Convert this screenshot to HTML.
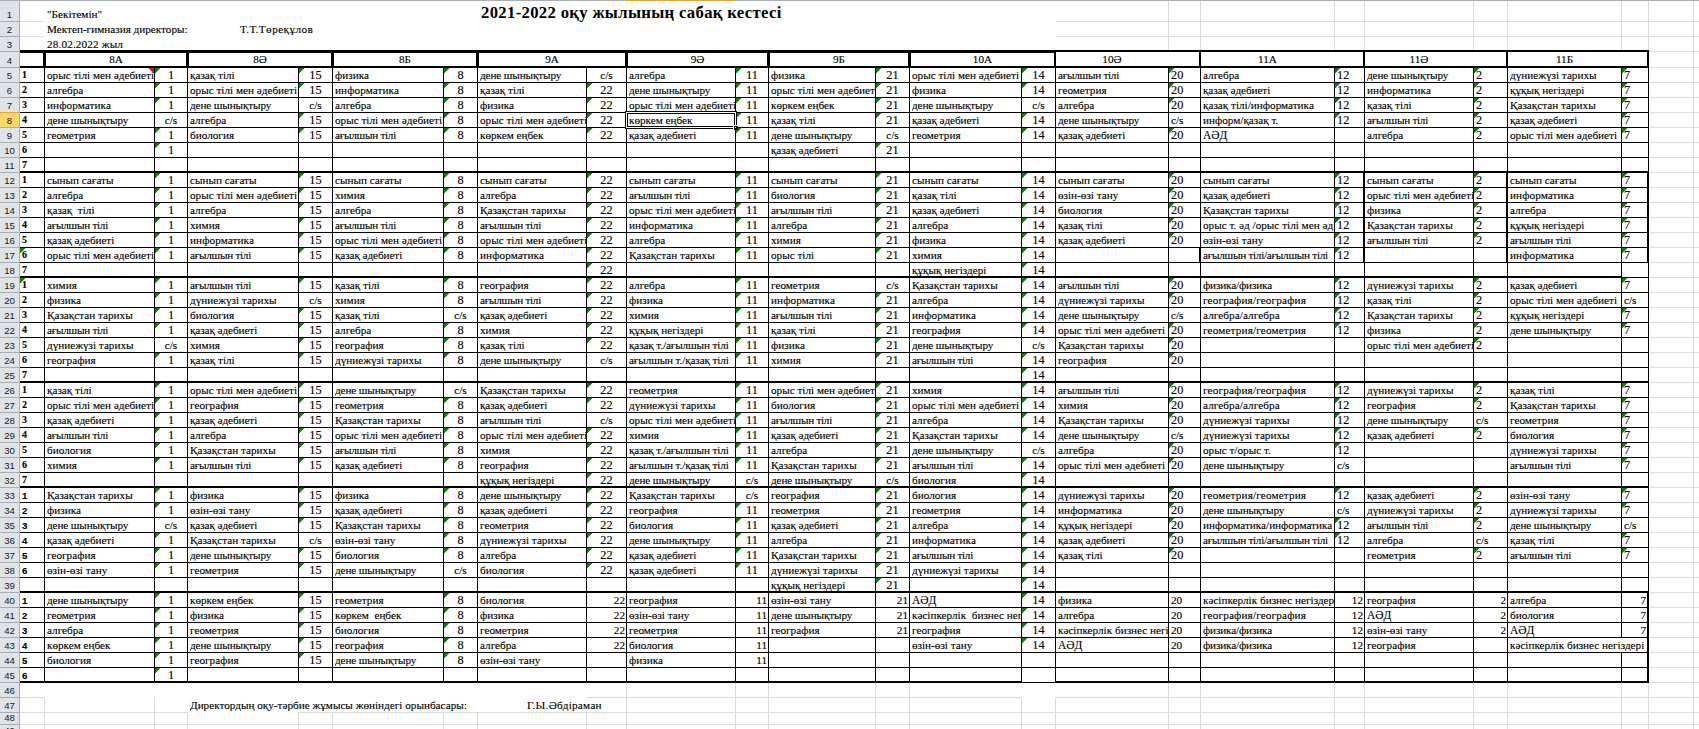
<!DOCTYPE html><html><head><meta charset="utf-8"><title>sheet</title><style>
html,body{margin:0;padding:0;background:#fff;}
body{width:1699px;height:729px;overflow:hidden;position:relative;font-family:"Liberation Serif",serif;font-size:11.2px;color:#000}
#s{position:absolute;left:0;top:0;width:1699px;height:729px;overflow:hidden}
#s div{position:absolute}
.t{white-space:pre;line-height:14px;height:15px;-webkit-text-stroke:0.12px #000}
.g{width:6px;height:6px;background:#0a7d0a;clip-path:polygon(0 0,5.5px 0,0 5.5px)}
.r{width:6px;height:6px;background:#ff0000;clip-path:polygon(0.5px 0,6px 0,6px 5.5px)}
.rh{left:0;width:19px;text-align:center;font-family:"Liberation Sans",sans-serif;font-size:9.6px;color:#1a1a1a}
</style></head><body><div id="s"><div style="left:1649px;top:21px;width:50px;height:1px;background:#dadcdf"></div>
<div style="left:1649px;top:36px;width:50px;height:1px;background:#dadcdf"></div>
<div style="left:1649px;top:51px;width:50px;height:1px;background:#dadcdf"></div>
<div style="left:1649px;top:67px;width:50px;height:1px;background:#dadcdf"></div>
<div style="left:1649px;top:82px;width:50px;height:1px;background:#dadcdf"></div>
<div style="left:1649px;top:97px;width:50px;height:1px;background:#dadcdf"></div>
<div style="left:1649px;top:112px;width:50px;height:1px;background:#dadcdf"></div>
<div style="left:1649px;top:127px;width:50px;height:1px;background:#dadcdf"></div>
<div style="left:1649px;top:142px;width:50px;height:1px;background:#dadcdf"></div>
<div style="left:1649px;top:157px;width:50px;height:1px;background:#dadcdf"></div>
<div style="left:1649px;top:172px;width:50px;height:1px;background:#dadcdf"></div>
<div style="left:1649px;top:187px;width:50px;height:1px;background:#dadcdf"></div>
<div style="left:1649px;top:202px;width:50px;height:1px;background:#dadcdf"></div>
<div style="left:1649px;top:217px;width:50px;height:1px;background:#dadcdf"></div>
<div style="left:1649px;top:232px;width:50px;height:1px;background:#dadcdf"></div>
<div style="left:1649px;top:247px;width:50px;height:1px;background:#dadcdf"></div>
<div style="left:1649px;top:262px;width:50px;height:1px;background:#dadcdf"></div>
<div style="left:1649px;top:277px;width:50px;height:1px;background:#dadcdf"></div>
<div style="left:1649px;top:292px;width:50px;height:1px;background:#dadcdf"></div>
<div style="left:1649px;top:307px;width:50px;height:1px;background:#dadcdf"></div>
<div style="left:1649px;top:322px;width:50px;height:1px;background:#dadcdf"></div>
<div style="left:1649px;top:337px;width:50px;height:1px;background:#dadcdf"></div>
<div style="left:1649px;top:352px;width:50px;height:1px;background:#dadcdf"></div>
<div style="left:1649px;top:367px;width:50px;height:1px;background:#dadcdf"></div>
<div style="left:1649px;top:382px;width:50px;height:1px;background:#dadcdf"></div>
<div style="left:1649px;top:397px;width:50px;height:1px;background:#dadcdf"></div>
<div style="left:1649px;top:412px;width:50px;height:1px;background:#dadcdf"></div>
<div style="left:1649px;top:427px;width:50px;height:1px;background:#dadcdf"></div>
<div style="left:1649px;top:442px;width:50px;height:1px;background:#dadcdf"></div>
<div style="left:1649px;top:457px;width:50px;height:1px;background:#dadcdf"></div>
<div style="left:1649px;top:472px;width:50px;height:1px;background:#dadcdf"></div>
<div style="left:1649px;top:487px;width:50px;height:1px;background:#dadcdf"></div>
<div style="left:1649px;top:502px;width:50px;height:1px;background:#dadcdf"></div>
<div style="left:1649px;top:517px;width:50px;height:1px;background:#dadcdf"></div>
<div style="left:1649px;top:532px;width:50px;height:1px;background:#dadcdf"></div>
<div style="left:1649px;top:547px;width:50px;height:1px;background:#dadcdf"></div>
<div style="left:1649px;top:562px;width:50px;height:1px;background:#dadcdf"></div>
<div style="left:1649px;top:577px;width:50px;height:1px;background:#dadcdf"></div>
<div style="left:1649px;top:592px;width:50px;height:1px;background:#dadcdf"></div>
<div style="left:1649px;top:607px;width:50px;height:1px;background:#dadcdf"></div>
<div style="left:1649px;top:622px;width:50px;height:1px;background:#dadcdf"></div>
<div style="left:1649px;top:637px;width:50px;height:1px;background:#dadcdf"></div>
<div style="left:1649px;top:652px;width:50px;height:1px;background:#dadcdf"></div>
<div style="left:1649px;top:667px;width:50px;height:1px;background:#dadcdf"></div>
<div style="left:1649px;top:682px;width:50px;height:1px;background:#dadcdf"></div>
<div style="left:1649px;top:697px;width:50px;height:1px;background:#dadcdf"></div>
<div style="left:1649px;top:712px;width:50px;height:1px;background:#dadcdf"></div>
<div style="left:1649px;top:724px;width:50px;height:1px;background:#dadcdf"></div>
<div style="left:1693px;top:1px;width:1px;height:728px;background:#dadcdf"></div>
<div style="left:1648px;top:1px;width:1px;height:49px;background:#dadcdf"></div>
<div style="left:1648px;top:683px;width:1px;height:46px;background:#dadcdf"></div>
<div style="left:20px;top:21px;width:24px;height:1px;background:#dadcdf"></div>
<div style="left:20px;top:36px;width:24px;height:1px;background:#dadcdf"></div>
<div style="left:1056px;top:21px;width:593px;height:1px;background:#dadcdf"></div>
<div style="left:1056px;top:36px;width:593px;height:1px;background:#dadcdf"></div>
<div style="left:1168px;top:1px;width:1px;height:49px;background:#dadcdf"></div>
<div style="left:1200px;top:1px;width:1px;height:49px;background:#dadcdf"></div>
<div style="left:1334px;top:1px;width:1px;height:49px;background:#dadcdf"></div>
<div style="left:1364px;top:1px;width:1px;height:49px;background:#dadcdf"></div>
<div style="left:1473px;top:1px;width:1px;height:49px;background:#dadcdf"></div>
<div style="left:1507px;top:1px;width:1px;height:49px;background:#dadcdf"></div>
<div style="left:1621px;top:1px;width:1px;height:49px;background:#dadcdf"></div>
<div style="left:20px;top:697px;width:25px;height:1px;background:#dadcdf"></div>
<div style="left:587px;top:697px;width:435px;height:1px;background:#dadcdf"></div>
<div style="left:1055px;top:697px;width:594px;height:1px;background:#dadcdf"></div>
<div style="left:626px;top:683px;width:1px;height:46px;background:#dadcdf"></div>
<div style="left:735px;top:683px;width:1px;height:46px;background:#dadcdf"></div>
<div style="left:768px;top:683px;width:1px;height:46px;background:#dadcdf"></div>
<div style="left:875px;top:683px;width:1px;height:46px;background:#dadcdf"></div>
<div style="left:909px;top:683px;width:1px;height:46px;background:#dadcdf"></div>
<div style="left:1168px;top:683px;width:1px;height:46px;background:#dadcdf"></div>
<div style="left:1200px;top:683px;width:1px;height:46px;background:#dadcdf"></div>
<div style="left:1334px;top:683px;width:1px;height:46px;background:#dadcdf"></div>
<div style="left:1364px;top:683px;width:1px;height:46px;background:#dadcdf"></div>
<div style="left:1473px;top:683px;width:1px;height:46px;background:#dadcdf"></div>
<div style="left:1507px;top:683px;width:1px;height:46px;background:#dadcdf"></div>
<div style="left:1621px;top:683px;width:1px;height:46px;background:#dadcdf"></div>
<div style="left:1021px;top:697px;width:1px;height:32px;background:#dadcdf"></div>
<div style="left:1055px;top:697px;width:1px;height:32px;background:#dadcdf"></div>
<div style="left:20px;top:712px;width:168px;height:1px;background:#dadcdf"></div>
<div style="left:298px;top:712px;width:1351px;height:1px;background:#dadcdf"></div>
<div style="left:20px;top:724px;width:1629px;height:1px;background:#dadcdf"></div>
<div style="left:44px;top:697px;width:1px;height:32px;background:#dadcdf"></div>
<div style="left:154px;top:697px;width:1px;height:32px;background:#dadcdf"></div>
<div style="left:187px;top:712px;width:1px;height:17px;background:#dadcdf"></div>
<div style="left:298px;top:712px;width:1px;height:17px;background:#dadcdf"></div>
<div style="left:332px;top:712px;width:1px;height:17px;background:#dadcdf"></div>
<div style="left:443px;top:712px;width:1px;height:17px;background:#dadcdf"></div>
<div style="left:477px;top:712px;width:1px;height:17px;background:#dadcdf"></div>
<div style="left:586px;top:712px;width:1px;height:17px;background:#dadcdf"></div>
<div style="left:20px;top:50px;width:1036px;height:3px;background:#000"></div>
<div style="left:1056px;top:50px;width:593px;height:2px;background:#000"></div>
<div style="left:20px;top:66px;width:1629px;height:2px;background:#000"></div>
<div style="left:20px;top:82px;width:1629px;height:1px;background:#000"></div>
<div style="left:20px;top:97px;width:1629px;height:1px;background:#000"></div>
<div style="left:20px;top:112px;width:1629px;height:1px;background:#000"></div>
<div style="left:20px;top:127px;width:1629px;height:1px;background:#000"></div>
<div style="left:20px;top:142px;width:1629px;height:1px;background:#000"></div>
<div style="left:20px;top:157px;width:1629px;height:1px;background:#000"></div>
<div style="left:20px;top:171px;width:1629px;height:2px;background:#000"></div>
<div style="left:20px;top:187px;width:1629px;height:1px;background:#000"></div>
<div style="left:20px;top:202px;width:1629px;height:1px;background:#000"></div>
<div style="left:20px;top:217px;width:1629px;height:1px;background:#000"></div>
<div style="left:20px;top:232px;width:1629px;height:1px;background:#000"></div>
<div style="left:20px;top:247px;width:1629px;height:1px;background:#000"></div>
<div style="left:20px;top:262px;width:1629px;height:1px;background:#000"></div>
<div style="left:20px;top:276px;width:1602px;height:2px;background:#000"></div>
<div style="left:1621px;top:277px;width:28px;height:1px;background:#000"></div>
<div style="left:20px;top:292px;width:1629px;height:1px;background:#000"></div>
<div style="left:20px;top:307px;width:1629px;height:1px;background:#000"></div>
<div style="left:20px;top:322px;width:1629px;height:1px;background:#000"></div>
<div style="left:20px;top:337px;width:1629px;height:1px;background:#000"></div>
<div style="left:20px;top:352px;width:1629px;height:1px;background:#000"></div>
<div style="left:20px;top:367px;width:1629px;height:1px;background:#000"></div>
<div style="left:20px;top:381px;width:1629px;height:2px;background:#000"></div>
<div style="left:20px;top:397px;width:1629px;height:1px;background:#000"></div>
<div style="left:20px;top:412px;width:1629px;height:1px;background:#000"></div>
<div style="left:20px;top:427px;width:1629px;height:1px;background:#000"></div>
<div style="left:20px;top:442px;width:1629px;height:1px;background:#000"></div>
<div style="left:20px;top:457px;width:1629px;height:1px;background:#000"></div>
<div style="left:20px;top:472px;width:1629px;height:1px;background:#000"></div>
<div style="left:20px;top:486px;width:1629px;height:2px;background:#000"></div>
<div style="left:20px;top:502px;width:1629px;height:1px;background:#000"></div>
<div style="left:20px;top:517px;width:1629px;height:1px;background:#000"></div>
<div style="left:20px;top:532px;width:1629px;height:1px;background:#000"></div>
<div style="left:20px;top:547px;width:1629px;height:1px;background:#000"></div>
<div style="left:20px;top:562px;width:1629px;height:1px;background:#000"></div>
<div style="left:20px;top:577px;width:1629px;height:1px;background:#000"></div>
<div style="left:20px;top:591px;width:1629px;height:2px;background:#000"></div>
<div style="left:20px;top:607px;width:1629px;height:1px;background:#000"></div>
<div style="left:20px;top:622px;width:1629px;height:1px;background:#000"></div>
<div style="left:20px;top:637px;width:1629px;height:1px;background:#000"></div>
<div style="left:20px;top:652px;width:1629px;height:1px;background:#000"></div>
<div style="left:20px;top:667px;width:1629px;height:1px;background:#000"></div>
<div style="left:20px;top:681px;width:1002px;height:2px;background:#000"></div>
<div style="left:1021px;top:682px;width:35px;height:1px;background:#000"></div>
<div style="left:1055px;top:681px;width:594px;height:2px;background:#000"></div>
<div style="left:43px;top:50px;width:3px;height:18px;background:#000"></div>
<div style="left:186px;top:50px;width:3px;height:18px;background:#000"></div>
<div style="left:331px;top:50px;width:3px;height:18px;background:#000"></div>
<div style="left:476px;top:50px;width:3px;height:18px;background:#000"></div>
<div style="left:625px;top:50px;width:3px;height:18px;background:#000"></div>
<div style="left:767px;top:50px;width:3px;height:18px;background:#000"></div>
<div style="left:908px;top:50px;width:3px;height:18px;background:#000"></div>
<div style="left:1054px;top:50px;width:2px;height:18px;background:#000"></div>
<div style="left:1199px;top:50px;width:2px;height:18px;background:#000"></div>
<div style="left:1363px;top:50px;width:2px;height:18px;background:#000"></div>
<div style="left:1506px;top:50px;width:2px;height:18px;background:#000"></div>
<div style="left:1647px;top:50px;width:2px;height:18px;background:#000"></div>
<div style="left:44px;top:68px;width:1px;height:615px;background:#000"></div>
<div style="left:154px;top:68px;width:1px;height:615px;background:#000"></div>
<div style="left:187px;top:68px;width:1px;height:615px;background:#000"></div>
<div style="left:298px;top:68px;width:1px;height:615px;background:#000"></div>
<div style="left:332px;top:68px;width:1px;height:615px;background:#000"></div>
<div style="left:443px;top:68px;width:1px;height:615px;background:#000"></div>
<div style="left:477px;top:68px;width:1px;height:615px;background:#000"></div>
<div style="left:586px;top:68px;width:1px;height:615px;background:#000"></div>
<div style="left:626px;top:68px;width:1px;height:615px;background:#000"></div>
<div style="left:735px;top:68px;width:1px;height:615px;background:#000"></div>
<div style="left:768px;top:68px;width:1px;height:615px;background:#000"></div>
<div style="left:875px;top:68px;width:1px;height:615px;background:#000"></div>
<div style="left:909px;top:68px;width:1px;height:615px;background:#000"></div>
<div style="left:1021px;top:68px;width:1px;height:615px;background:#000"></div>
<div style="left:1055px;top:68px;width:1px;height:615px;background:#000"></div>
<div style="left:1168px;top:68px;width:1px;height:615px;background:#000"></div>
<div style="left:1200px;top:68px;width:1px;height:615px;background:#000"></div>
<div style="left:1334px;top:68px;width:1px;height:615px;background:#000"></div>
<div style="left:1364px;top:68px;width:1px;height:615px;background:#000"></div>
<div style="left:1473px;top:68px;width:1px;height:615px;background:#000"></div>
<div style="left:1507px;top:68px;width:1px;height:615px;background:#000"></div>
<div style="left:1621px;top:68px;width:1px;height:570px;background:#000"></div>
<div style="left:1621px;top:652px;width:1px;height:31px;background:#000"></div>
<div style="left:1648px;top:68px;width:1px;height:615px;background:#000"></div>
<div style="left:1647px;top:172px;width:2px;height:91px;background:#000"></div>
<div style="left:1647px;top:592px;width:2px;height:91px;background:#000"></div>
<div style="left:1506px;top:172px;width:2px;height:91px;background:#000"></div>
<div style="left:1363px;top:172px;width:2px;height:91px;background:#000"></div>
<div style="left:1199px;top:247px;width:2px;height:16px;background:#000"></div>
<div class="t" style="left:22px;top:67px;width:20px;font-weight:bold;font-size:10px;line-height:15px">1</div>
<div class="t" style="left:47px;top:68px;width:107px;text-align:left;overflow:hidden;">орыс тілі мен әдебиеті</div>
<div class="t" style="left:155px;top:68px;width:32px;text-align:center;overflow:hidden;font-size:12.3px;">1</div>
<div class="t" style="left:190px;top:68px;width:108px;text-align:left;overflow:hidden;">қазақ тілі</div>
<div class="t" style="left:299px;top:68px;width:33px;text-align:center;overflow:hidden;font-size:12.3px;">15</div>
<div class="t" style="left:335px;top:68px;width:108px;text-align:left;overflow:hidden;">физика</div>
<div class="t" style="left:444px;top:68px;width:33px;text-align:center;overflow:hidden;font-size:12.3px;">8</div>
<div class="t" style="left:480px;top:68px;width:106px;text-align:left;overflow:hidden;letter-spacing:-0.12px;">дене шынықтыру</div>
<div class="t" style="left:587px;top:68px;width:39px;text-align:center;overflow:hidden;">c/s</div>
<div class="t" style="left:629px;top:68px;width:106px;text-align:left;overflow:hidden;">алгебра</div>
<div class="t" style="left:736px;top:68px;width:32px;text-align:center;overflow:hidden;font-size:12.3px;">11</div>
<div class="t" style="left:771px;top:68px;width:104px;text-align:left;overflow:hidden;">физика</div>
<div class="t" style="left:876px;top:68px;width:33px;text-align:center;overflow:hidden;font-size:12.3px;">21</div>
<div class="t" style="left:912px;top:68px;width:109px;text-align:left;overflow:hidden;">орыс тілі мен әдебиеті</div>
<div class="t" style="left:1022px;top:68px;width:33px;text-align:center;overflow:hidden;font-size:12.3px;">14</div>
<div class="t" style="left:1058px;top:68px;width:110px;text-align:left;overflow:hidden;letter-spacing:-0.27px;">ағылшын тілі</div>
<div class="t" style="left:1171px;top:68px;width:29px;text-align:left;overflow:hidden;font-size:12.3px;">20</div>
<div class="t" style="left:1203px;top:68px;width:131px;text-align:left;overflow:hidden;">алгебра</div>
<div class="t" style="left:1337px;top:68px;width:27px;text-align:left;overflow:hidden;font-size:12.3px;">12</div>
<div class="t" style="left:1367px;top:68px;width:106px;text-align:left;overflow:hidden;letter-spacing:-0.12px;">дене шынықтыру</div>
<div class="t" style="left:1476px;top:68px;width:31px;text-align:left;overflow:hidden;font-size:12.3px;">2</div>
<div class="t" style="left:1510px;top:68px;width:111px;text-align:left;overflow:hidden;">дүниежүзі тарихы</div>
<div class="t" style="left:1624px;top:68px;width:24px;text-align:left;overflow:hidden;font-size:12.3px;">7</div>
<div class="t" style="left:22px;top:82px;width:20px;font-weight:bold;font-size:10px;line-height:15px">2</div>
<div class="t" style="left:47px;top:83px;width:107px;text-align:left;overflow:hidden;">алгебра</div>
<div class="t" style="left:155px;top:83px;width:32px;text-align:center;overflow:hidden;font-size:12.3px;">1</div>
<div class="t" style="left:190px;top:83px;width:108px;text-align:left;overflow:hidden;">орыс тілі мен әдебиеті</div>
<div class="t" style="left:299px;top:83px;width:33px;text-align:center;overflow:hidden;font-size:12.3px;">15</div>
<div class="t" style="left:335px;top:83px;width:108px;text-align:left;overflow:hidden;letter-spacing:0.09px;">информатика</div>
<div class="t" style="left:444px;top:83px;width:33px;text-align:center;overflow:hidden;font-size:12.3px;">8</div>
<div class="t" style="left:480px;top:83px;width:106px;text-align:left;overflow:hidden;">қазақ тілі</div>
<div class="t" style="left:587px;top:83px;width:39px;text-align:center;overflow:hidden;font-size:12.3px;">22</div>
<div class="t" style="left:629px;top:83px;width:106px;text-align:left;overflow:hidden;letter-spacing:-0.12px;">дене шынықтыру</div>
<div class="t" style="left:736px;top:83px;width:32px;text-align:center;overflow:hidden;font-size:12.3px;">11</div>
<div class="t" style="left:771px;top:83px;width:104px;text-align:left;overflow:hidden;">орыс тілі мен әдебиеті</div>
<div class="t" style="left:876px;top:83px;width:33px;text-align:center;overflow:hidden;font-size:12.3px;">21</div>
<div class="t" style="left:912px;top:83px;width:109px;text-align:left;overflow:hidden;">физика</div>
<div class="t" style="left:1022px;top:83px;width:33px;text-align:center;overflow:hidden;font-size:12.3px;">14</div>
<div class="t" style="left:1058px;top:83px;width:110px;text-align:left;overflow:hidden;">геометрия</div>
<div class="t" style="left:1171px;top:83px;width:29px;text-align:left;overflow:hidden;font-size:12.3px;">20</div>
<div class="t" style="left:1203px;top:83px;width:131px;text-align:left;overflow:hidden;letter-spacing:-0.08px;">қазақ әдебиеті</div>
<div class="t" style="left:1337px;top:83px;width:27px;text-align:left;overflow:hidden;font-size:12.3px;">12</div>
<div class="t" style="left:1367px;top:83px;width:106px;text-align:left;overflow:hidden;letter-spacing:0.09px;">информатика</div>
<div class="t" style="left:1476px;top:83px;width:31px;text-align:left;overflow:hidden;font-size:12.3px;">2</div>
<div class="t" style="left:1510px;top:83px;width:111px;text-align:left;overflow:hidden;">құқық негіздері</div>
<div class="t" style="left:1624px;top:83px;width:24px;text-align:left;overflow:hidden;font-size:12.3px;">7</div>
<div class="t" style="left:22px;top:97px;width:20px;font-weight:bold;font-size:10px;line-height:15px">3</div>
<div class="t" style="left:47px;top:98px;width:107px;text-align:left;overflow:hidden;letter-spacing:0.09px;">информатика</div>
<div class="t" style="left:155px;top:98px;width:32px;text-align:center;overflow:hidden;font-size:12.3px;">1</div>
<div class="t" style="left:190px;top:98px;width:108px;text-align:left;overflow:hidden;letter-spacing:-0.12px;">дене шынықтыру</div>
<div class="t" style="left:299px;top:98px;width:33px;text-align:center;overflow:hidden;">c/s</div>
<div class="t" style="left:335px;top:98px;width:108px;text-align:left;overflow:hidden;">алгебра</div>
<div class="t" style="left:444px;top:98px;width:33px;text-align:center;overflow:hidden;font-size:12.3px;">8</div>
<div class="t" style="left:480px;top:98px;width:106px;text-align:left;overflow:hidden;">физика</div>
<div class="t" style="left:587px;top:98px;width:39px;text-align:center;overflow:hidden;font-size:12.3px;">22</div>
<div class="t" style="left:629px;top:98px;width:106px;text-align:left;overflow:hidden;">орыс тілі мен әдебиеті</div>
<div class="t" style="left:736px;top:98px;width:32px;text-align:center;overflow:hidden;font-size:12.3px;">11</div>
<div class="t" style="left:771px;top:98px;width:104px;text-align:left;overflow:hidden;">көркем еңбек</div>
<div class="t" style="left:876px;top:98px;width:33px;text-align:center;overflow:hidden;font-size:12.3px;">21</div>
<div class="t" style="left:912px;top:98px;width:109px;text-align:left;overflow:hidden;letter-spacing:-0.12px;">дене шынықтыру</div>
<div class="t" style="left:1022px;top:98px;width:33px;text-align:center;overflow:hidden;">c/s</div>
<div class="t" style="left:1058px;top:98px;width:110px;text-align:left;overflow:hidden;">алгебра</div>
<div class="t" style="left:1171px;top:98px;width:29px;text-align:left;overflow:hidden;font-size:12.3px;">20</div>
<div class="t" style="left:1203px;top:98px;width:131px;text-align:left;overflow:hidden;">қазақ тілі/информатика</div>
<div class="t" style="left:1337px;top:98px;width:27px;text-align:left;overflow:hidden;font-size:12.3px;">12</div>
<div class="t" style="left:1367px;top:98px;width:106px;text-align:left;overflow:hidden;">қазақ тілі</div>
<div class="t" style="left:1476px;top:98px;width:31px;text-align:left;overflow:hidden;font-size:12.3px;">2</div>
<div class="t" style="left:1510px;top:98px;width:111px;text-align:left;overflow:hidden;">Қазақстан тарихы</div>
<div class="t" style="left:1624px;top:98px;width:24px;text-align:left;overflow:hidden;font-size:12.3px;">7</div>
<div class="t" style="left:22px;top:112px;width:20px;font-weight:bold;font-size:10px;line-height:15px">4</div>
<div class="t" style="left:47px;top:113px;width:107px;text-align:left;overflow:hidden;letter-spacing:-0.12px;">дене шынықтыру</div>
<div class="t" style="left:155px;top:113px;width:32px;text-align:center;overflow:hidden;">c/s</div>
<div class="t" style="left:190px;top:113px;width:108px;text-align:left;overflow:hidden;">алгебра</div>
<div class="t" style="left:299px;top:113px;width:33px;text-align:center;overflow:hidden;font-size:12.3px;">15</div>
<div class="t" style="left:335px;top:113px;width:108px;text-align:left;overflow:hidden;">орыс тілі мен әдебиеті</div>
<div class="t" style="left:444px;top:113px;width:33px;text-align:center;overflow:hidden;font-size:12.3px;">8</div>
<div class="t" style="left:480px;top:113px;width:106px;text-align:left;overflow:hidden;">орыс тілі мен әдебиеті</div>
<div class="t" style="left:587px;top:113px;width:39px;text-align:center;overflow:hidden;font-size:12.3px;">22</div>
<div class="t" style="left:629px;top:113px;width:106px;text-align:left;overflow:hidden;">көркем еңбек</div>
<div class="t" style="left:736px;top:113px;width:32px;text-align:center;overflow:hidden;font-size:12.3px;">11</div>
<div class="t" style="left:771px;top:113px;width:104px;text-align:left;overflow:hidden;">қазақ тілі</div>
<div class="t" style="left:876px;top:113px;width:33px;text-align:center;overflow:hidden;font-size:12.3px;">21</div>
<div class="t" style="left:912px;top:113px;width:109px;text-align:left;overflow:hidden;letter-spacing:-0.08px;">қазақ әдебиеті</div>
<div class="t" style="left:1022px;top:113px;width:33px;text-align:center;overflow:hidden;font-size:12.3px;">14</div>
<div class="t" style="left:1058px;top:113px;width:110px;text-align:left;overflow:hidden;letter-spacing:-0.12px;">дене шынықтыру</div>
<div class="t" style="left:1171px;top:113px;width:29px;text-align:left;overflow:hidden;">c/s</div>
<div class="t" style="left:1203px;top:113px;width:131px;text-align:left;overflow:hidden;">информ/қазақ т.</div>
<div class="t" style="left:1337px;top:113px;width:27px;text-align:left;overflow:hidden;font-size:12.3px;">12</div>
<div class="t" style="left:1367px;top:113px;width:106px;text-align:left;overflow:hidden;letter-spacing:-0.27px;">ағылшын тілі</div>
<div class="t" style="left:1476px;top:113px;width:31px;text-align:left;overflow:hidden;font-size:12.3px;">2</div>
<div class="t" style="left:1510px;top:113px;width:111px;text-align:left;overflow:hidden;letter-spacing:-0.08px;">қазақ әдебиеті</div>
<div class="t" style="left:1624px;top:113px;width:24px;text-align:left;overflow:hidden;font-size:12.3px;">7</div>
<div class="t" style="left:22px;top:127px;width:20px;font-weight:bold;font-size:10px;line-height:15px">5</div>
<div class="t" style="left:47px;top:128px;width:107px;text-align:left;overflow:hidden;">геометрия</div>
<div class="t" style="left:155px;top:128px;width:32px;text-align:center;overflow:hidden;font-size:12.3px;">1</div>
<div class="t" style="left:190px;top:128px;width:108px;text-align:left;overflow:hidden;">биология</div>
<div class="t" style="left:299px;top:128px;width:33px;text-align:center;overflow:hidden;font-size:12.3px;">15</div>
<div class="t" style="left:335px;top:128px;width:108px;text-align:left;overflow:hidden;letter-spacing:-0.27px;">ағылшын тілі</div>
<div class="t" style="left:444px;top:128px;width:33px;text-align:center;overflow:hidden;font-size:12.3px;">8</div>
<div class="t" style="left:480px;top:128px;width:106px;text-align:left;overflow:hidden;">көркем еңбек</div>
<div class="t" style="left:587px;top:128px;width:39px;text-align:center;overflow:hidden;font-size:12.3px;">22</div>
<div class="t" style="left:629px;top:128px;width:106px;text-align:left;overflow:hidden;letter-spacing:-0.08px;">қазақ әдебиеті</div>
<div class="t" style="left:736px;top:128px;width:32px;text-align:center;overflow:hidden;font-size:12.3px;">11</div>
<div class="t" style="left:771px;top:128px;width:104px;text-align:left;overflow:hidden;letter-spacing:-0.12px;">дене шынықтыру</div>
<div class="t" style="left:876px;top:128px;width:33px;text-align:center;overflow:hidden;">c/s</div>
<div class="t" style="left:912px;top:128px;width:109px;text-align:left;overflow:hidden;">геометрия</div>
<div class="t" style="left:1022px;top:128px;width:33px;text-align:center;overflow:hidden;font-size:12.3px;">14</div>
<div class="t" style="left:1058px;top:128px;width:110px;text-align:left;overflow:hidden;letter-spacing:-0.08px;">қазақ әдебиеті</div>
<div class="t" style="left:1171px;top:128px;width:29px;text-align:left;overflow:hidden;font-size:12.3px;">20</div>
<div class="t" style="left:1203px;top:128px;width:131px;text-align:left;overflow:hidden;font-size:11.45px;">АӘД</div>
<div class="t" style="left:1367px;top:128px;width:106px;text-align:left;overflow:hidden;">алгебра</div>
<div class="t" style="left:1476px;top:128px;width:31px;text-align:left;overflow:hidden;font-size:12.3px;">2</div>
<div class="t" style="left:1510px;top:128px;width:111px;text-align:left;overflow:hidden;">орыс тілі мен әдебиеті</div>
<div class="t" style="left:1624px;top:128px;width:24px;text-align:left;overflow:hidden;font-size:12.3px;">7</div>
<div class="t" style="left:22px;top:142px;width:20px;font-weight:bold;font-size:10px;line-height:15px">6</div>
<div class="t" style="left:155px;top:143px;width:32px;text-align:center;overflow:hidden;font-size:12.3px;">1</div>
<div class="t" style="left:771px;top:143px;width:104px;text-align:left;overflow:hidden;letter-spacing:-0.08px;">қазақ әдебиеті</div>
<div class="t" style="left:876px;top:143px;width:33px;text-align:center;overflow:hidden;font-size:12.3px;">21</div>
<div class="t" style="left:22px;top:157px;width:20px;font-weight:bold;font-size:10px;line-height:15px">7</div>
<div class="t" style="left:22px;top:172px;width:20px;font-weight:bold;font-size:10px;line-height:15px">1</div>
<div class="t" style="left:47px;top:173px;width:107px;text-align:left;overflow:hidden;">сынып сағаты</div>
<div class="t" style="left:155px;top:173px;width:32px;text-align:center;overflow:hidden;font-size:12.3px;">1</div>
<div class="t" style="left:190px;top:173px;width:108px;text-align:left;overflow:hidden;">сынып сағаты</div>
<div class="t" style="left:299px;top:173px;width:33px;text-align:center;overflow:hidden;font-size:12.3px;">15</div>
<div class="t" style="left:335px;top:173px;width:108px;text-align:left;overflow:hidden;">сынып сағаты</div>
<div class="t" style="left:444px;top:173px;width:33px;text-align:center;overflow:hidden;font-size:12.3px;">8</div>
<div class="t" style="left:480px;top:173px;width:106px;text-align:left;overflow:hidden;">сынып сағаты</div>
<div class="t" style="left:587px;top:173px;width:39px;text-align:center;overflow:hidden;font-size:12.3px;">22</div>
<div class="t" style="left:629px;top:173px;width:106px;text-align:left;overflow:hidden;">сынып сағаты</div>
<div class="t" style="left:736px;top:173px;width:32px;text-align:center;overflow:hidden;font-size:12.3px;">11</div>
<div class="t" style="left:771px;top:173px;width:104px;text-align:left;overflow:hidden;">сынып сағаты</div>
<div class="t" style="left:876px;top:173px;width:33px;text-align:center;overflow:hidden;font-size:12.3px;">21</div>
<div class="t" style="left:912px;top:173px;width:109px;text-align:left;overflow:hidden;">сынып сағаты</div>
<div class="t" style="left:1022px;top:173px;width:33px;text-align:center;overflow:hidden;font-size:12.3px;">14</div>
<div class="t" style="left:1058px;top:173px;width:110px;text-align:left;overflow:hidden;">сынып сағаты</div>
<div class="t" style="left:1171px;top:173px;width:29px;text-align:left;overflow:hidden;font-size:12.3px;">20</div>
<div class="t" style="left:1203px;top:173px;width:131px;text-align:left;overflow:hidden;">сынып сағаты</div>
<div class="t" style="left:1337px;top:173px;width:27px;text-align:left;overflow:hidden;font-size:12.3px;">12</div>
<div class="t" style="left:1367px;top:173px;width:106px;text-align:left;overflow:hidden;">сынып сағаты</div>
<div class="t" style="left:1476px;top:173px;width:31px;text-align:left;overflow:hidden;font-size:12.3px;">2</div>
<div class="t" style="left:1510px;top:173px;width:111px;text-align:left;overflow:hidden;">сынып сағаты</div>
<div class="t" style="left:1624px;top:173px;width:24px;text-align:left;overflow:hidden;font-size:12.3px;">7</div>
<div class="t" style="left:22px;top:187px;width:20px;font-weight:bold;font-size:10px;line-height:15px">2</div>
<div class="t" style="left:47px;top:188px;width:107px;text-align:left;overflow:hidden;">алгебра</div>
<div class="t" style="left:155px;top:188px;width:32px;text-align:center;overflow:hidden;font-size:12.3px;">1</div>
<div class="t" style="left:190px;top:188px;width:108px;text-align:left;overflow:hidden;">орыс тілі мен әдебиеті</div>
<div class="t" style="left:299px;top:188px;width:33px;text-align:center;overflow:hidden;font-size:12.3px;">15</div>
<div class="t" style="left:335px;top:188px;width:108px;text-align:left;overflow:hidden;">химия</div>
<div class="t" style="left:444px;top:188px;width:33px;text-align:center;overflow:hidden;font-size:12.3px;">8</div>
<div class="t" style="left:480px;top:188px;width:106px;text-align:left;overflow:hidden;">алгебра</div>
<div class="t" style="left:587px;top:188px;width:39px;text-align:center;overflow:hidden;font-size:12.3px;">22</div>
<div class="t" style="left:629px;top:188px;width:106px;text-align:left;overflow:hidden;letter-spacing:-0.27px;">ағылшын тілі</div>
<div class="t" style="left:736px;top:188px;width:32px;text-align:center;overflow:hidden;font-size:12.3px;">11</div>
<div class="t" style="left:771px;top:188px;width:104px;text-align:left;overflow:hidden;">биология</div>
<div class="t" style="left:876px;top:188px;width:33px;text-align:center;overflow:hidden;font-size:12.3px;">21</div>
<div class="t" style="left:912px;top:188px;width:109px;text-align:left;overflow:hidden;">қазақ тілі</div>
<div class="t" style="left:1022px;top:188px;width:33px;text-align:center;overflow:hidden;font-size:12.3px;">14</div>
<div class="t" style="left:1058px;top:188px;width:110px;text-align:left;overflow:hidden;">өзін-өзі тану</div>
<div class="t" style="left:1171px;top:188px;width:29px;text-align:left;overflow:hidden;font-size:12.3px;">20</div>
<div class="t" style="left:1203px;top:188px;width:131px;text-align:left;overflow:hidden;letter-spacing:-0.08px;">қазақ әдебиеті</div>
<div class="t" style="left:1337px;top:188px;width:27px;text-align:left;overflow:hidden;font-size:12.3px;">12</div>
<div class="t" style="left:1367px;top:188px;width:106px;text-align:left;overflow:hidden;">орыс тілі мен әдебиеті</div>
<div class="t" style="left:1476px;top:188px;width:31px;text-align:left;overflow:hidden;font-size:12.3px;">2</div>
<div class="t" style="left:1510px;top:188px;width:111px;text-align:left;overflow:hidden;letter-spacing:0.09px;">информатика</div>
<div class="t" style="left:1624px;top:188px;width:24px;text-align:left;overflow:hidden;font-size:12.3px;">7</div>
<div class="t" style="left:22px;top:202px;width:20px;font-weight:bold;font-size:10px;line-height:15px">3</div>
<div class="t" style="left:47px;top:203px;width:107px;text-align:left;overflow:hidden;">қазақ  тілі</div>
<div class="t" style="left:155px;top:203px;width:32px;text-align:center;overflow:hidden;font-size:12.3px;">1</div>
<div class="t" style="left:190px;top:203px;width:108px;text-align:left;overflow:hidden;">алгебра</div>
<div class="t" style="left:299px;top:203px;width:33px;text-align:center;overflow:hidden;font-size:12.3px;">15</div>
<div class="t" style="left:335px;top:203px;width:108px;text-align:left;overflow:hidden;">алгебра</div>
<div class="t" style="left:444px;top:203px;width:33px;text-align:center;overflow:hidden;font-size:12.3px;">8</div>
<div class="t" style="left:480px;top:203px;width:106px;text-align:left;overflow:hidden;">Қазақстан тарихы</div>
<div class="t" style="left:587px;top:203px;width:39px;text-align:center;overflow:hidden;font-size:12.3px;">22</div>
<div class="t" style="left:629px;top:203px;width:106px;text-align:left;overflow:hidden;">орыс тілі мен әдебиеті</div>
<div class="t" style="left:736px;top:203px;width:32px;text-align:center;overflow:hidden;font-size:12.3px;">11</div>
<div class="t" style="left:771px;top:203px;width:104px;text-align:left;overflow:hidden;letter-spacing:-0.27px;">ағылшын тілі</div>
<div class="t" style="left:876px;top:203px;width:33px;text-align:center;overflow:hidden;font-size:12.3px;">21</div>
<div class="t" style="left:912px;top:203px;width:109px;text-align:left;overflow:hidden;letter-spacing:-0.08px;">қазақ әдебиеті</div>
<div class="t" style="left:1022px;top:203px;width:33px;text-align:center;overflow:hidden;font-size:12.3px;">14</div>
<div class="t" style="left:1058px;top:203px;width:110px;text-align:left;overflow:hidden;">биология</div>
<div class="t" style="left:1171px;top:203px;width:29px;text-align:left;overflow:hidden;font-size:12.3px;">20</div>
<div class="t" style="left:1203px;top:203px;width:131px;text-align:left;overflow:hidden;">Қазақстан тарихы</div>
<div class="t" style="left:1337px;top:203px;width:27px;text-align:left;overflow:hidden;font-size:12.3px;">12</div>
<div class="t" style="left:1367px;top:203px;width:106px;text-align:left;overflow:hidden;">физика</div>
<div class="t" style="left:1476px;top:203px;width:31px;text-align:left;overflow:hidden;font-size:12.3px;">2</div>
<div class="t" style="left:1510px;top:203px;width:111px;text-align:left;overflow:hidden;">алгебра</div>
<div class="t" style="left:1624px;top:203px;width:24px;text-align:left;overflow:hidden;font-size:12.3px;">7</div>
<div class="t" style="left:22px;top:217px;width:20px;font-weight:bold;font-size:10px;line-height:15px">4</div>
<div class="t" style="left:47px;top:218px;width:107px;text-align:left;overflow:hidden;letter-spacing:-0.27px;">ағылшын тілі</div>
<div class="t" style="left:155px;top:218px;width:32px;text-align:center;overflow:hidden;font-size:12.3px;">1</div>
<div class="t" style="left:190px;top:218px;width:108px;text-align:left;overflow:hidden;">химия</div>
<div class="t" style="left:299px;top:218px;width:33px;text-align:center;overflow:hidden;font-size:12.3px;">15</div>
<div class="t" style="left:335px;top:218px;width:108px;text-align:left;overflow:hidden;letter-spacing:-0.27px;">ағылшын тілі</div>
<div class="t" style="left:444px;top:218px;width:33px;text-align:center;overflow:hidden;font-size:12.3px;">8</div>
<div class="t" style="left:480px;top:218px;width:106px;text-align:left;overflow:hidden;letter-spacing:-0.27px;">ағылшын тілі</div>
<div class="t" style="left:587px;top:218px;width:39px;text-align:center;overflow:hidden;font-size:12.3px;">22</div>
<div class="t" style="left:629px;top:218px;width:106px;text-align:left;overflow:hidden;letter-spacing:0.09px;">информатика</div>
<div class="t" style="left:736px;top:218px;width:32px;text-align:center;overflow:hidden;font-size:12.3px;">11</div>
<div class="t" style="left:771px;top:218px;width:104px;text-align:left;overflow:hidden;">алгебра</div>
<div class="t" style="left:876px;top:218px;width:33px;text-align:center;overflow:hidden;font-size:12.3px;">21</div>
<div class="t" style="left:912px;top:218px;width:109px;text-align:left;overflow:hidden;">алгебра</div>
<div class="t" style="left:1022px;top:218px;width:33px;text-align:center;overflow:hidden;font-size:12.3px;">14</div>
<div class="t" style="left:1058px;top:218px;width:110px;text-align:left;overflow:hidden;">қазақ тілі</div>
<div class="t" style="left:1171px;top:218px;width:29px;text-align:left;overflow:hidden;font-size:12.3px;">20</div>
<div class="t" style="left:1203px;top:218px;width:131px;text-align:left;overflow:hidden;">орыс т. әд /орыс тілі мен әд</div>
<div class="t" style="left:1337px;top:218px;width:27px;text-align:left;overflow:hidden;font-size:12.3px;">12</div>
<div class="t" style="left:1367px;top:218px;width:106px;text-align:left;overflow:hidden;">Қазақстан тарихы</div>
<div class="t" style="left:1476px;top:218px;width:31px;text-align:left;overflow:hidden;font-size:12.3px;">2</div>
<div class="t" style="left:1510px;top:218px;width:111px;text-align:left;overflow:hidden;">құқық негіздері</div>
<div class="t" style="left:1624px;top:218px;width:24px;text-align:left;overflow:hidden;font-size:12.3px;">7</div>
<div class="t" style="left:22px;top:232px;width:20px;font-weight:bold;font-size:10px;line-height:15px">5</div>
<div class="t" style="left:47px;top:233px;width:107px;text-align:left;overflow:hidden;letter-spacing:-0.08px;">қазақ әдебиеті</div>
<div class="t" style="left:155px;top:233px;width:32px;text-align:center;overflow:hidden;font-size:12.3px;">1</div>
<div class="t" style="left:190px;top:233px;width:108px;text-align:left;overflow:hidden;letter-spacing:0.09px;">информатика</div>
<div class="t" style="left:299px;top:233px;width:33px;text-align:center;overflow:hidden;font-size:12.3px;">15</div>
<div class="t" style="left:335px;top:233px;width:108px;text-align:left;overflow:hidden;">орыс тілі мен әдебиеті</div>
<div class="t" style="left:444px;top:233px;width:33px;text-align:center;overflow:hidden;font-size:12.3px;">8</div>
<div class="t" style="left:480px;top:233px;width:106px;text-align:left;overflow:hidden;">орыс тілі мен әдебиеті</div>
<div class="t" style="left:587px;top:233px;width:39px;text-align:center;overflow:hidden;font-size:12.3px;">22</div>
<div class="t" style="left:629px;top:233px;width:106px;text-align:left;overflow:hidden;">алгебра</div>
<div class="t" style="left:736px;top:233px;width:32px;text-align:center;overflow:hidden;font-size:12.3px;">11</div>
<div class="t" style="left:771px;top:233px;width:104px;text-align:left;overflow:hidden;">химия</div>
<div class="t" style="left:876px;top:233px;width:33px;text-align:center;overflow:hidden;font-size:12.3px;">21</div>
<div class="t" style="left:912px;top:233px;width:109px;text-align:left;overflow:hidden;">физика</div>
<div class="t" style="left:1022px;top:233px;width:33px;text-align:center;overflow:hidden;font-size:12.3px;">14</div>
<div class="t" style="left:1058px;top:233px;width:110px;text-align:left;overflow:hidden;letter-spacing:-0.08px;">қазақ әдебиеті</div>
<div class="t" style="left:1171px;top:233px;width:29px;text-align:left;overflow:hidden;font-size:12.3px;">20</div>
<div class="t" style="left:1203px;top:233px;width:131px;text-align:left;overflow:hidden;">өзін-өзі тану</div>
<div class="t" style="left:1337px;top:233px;width:27px;text-align:left;overflow:hidden;font-size:12.3px;">12</div>
<div class="t" style="left:1367px;top:233px;width:106px;text-align:left;overflow:hidden;letter-spacing:-0.27px;">ағылшын тілі</div>
<div class="t" style="left:1476px;top:233px;width:31px;text-align:left;overflow:hidden;font-size:12.3px;">2</div>
<div class="t" style="left:1510px;top:233px;width:111px;text-align:left;overflow:hidden;letter-spacing:-0.27px;">ағылшын тілі</div>
<div class="t" style="left:1624px;top:233px;width:24px;text-align:left;overflow:hidden;font-size:12.3px;">7</div>
<div class="t" style="left:22px;top:247px;width:20px;font-weight:bold;font-size:10px;line-height:15px">6</div>
<div class="t" style="left:47px;top:248px;width:107px;text-align:left;overflow:hidden;">орыс тілі мен әдебиеті</div>
<div class="t" style="left:155px;top:248px;width:32px;text-align:center;overflow:hidden;font-size:12.3px;">1</div>
<div class="t" style="left:190px;top:248px;width:108px;text-align:left;overflow:hidden;letter-spacing:-0.27px;">ағылшын тілі</div>
<div class="t" style="left:299px;top:248px;width:33px;text-align:center;overflow:hidden;font-size:12.3px;">15</div>
<div class="t" style="left:335px;top:248px;width:108px;text-align:left;overflow:hidden;letter-spacing:-0.08px;">қазақ әдебиеті</div>
<div class="t" style="left:444px;top:248px;width:33px;text-align:center;overflow:hidden;font-size:12.3px;">8</div>
<div class="t" style="left:480px;top:248px;width:106px;text-align:left;overflow:hidden;letter-spacing:0.09px;">информатика</div>
<div class="t" style="left:587px;top:248px;width:39px;text-align:center;overflow:hidden;font-size:12.3px;">22</div>
<div class="t" style="left:629px;top:248px;width:106px;text-align:left;overflow:hidden;">Қазақстан тарихы</div>
<div class="t" style="left:736px;top:248px;width:32px;text-align:center;overflow:hidden;font-size:12.3px;">11</div>
<div class="t" style="left:771px;top:248px;width:104px;text-align:left;overflow:hidden;">орыс тілі</div>
<div class="t" style="left:876px;top:248px;width:33px;text-align:center;overflow:hidden;font-size:12.3px;">21</div>
<div class="t" style="left:912px;top:248px;width:109px;text-align:left;overflow:hidden;">химия</div>
<div class="t" style="left:1022px;top:248px;width:33px;text-align:center;overflow:hidden;font-size:12.3px;">14</div>
<div class="t" style="left:1203px;top:248px;width:131px;text-align:left;overflow:hidden;letter-spacing:-0.27px;">ағылшын тілі/ағылшын тілі</div>
<div class="t" style="left:1337px;top:248px;width:27px;text-align:left;overflow:hidden;font-size:12.3px;">12</div>
<div class="t" style="left:1510px;top:248px;width:111px;text-align:left;overflow:hidden;letter-spacing:0.09px;">информатика</div>
<div class="t" style="left:1624px;top:248px;width:24px;text-align:left;overflow:hidden;font-size:12.3px;">7</div>
<div class="t" style="left:22px;top:262px;width:20px;font-weight:bold;font-size:10px;line-height:15px">7</div>
<div class="t" style="left:587px;top:263px;width:39px;text-align:center;overflow:hidden;font-size:12.3px;">22</div>
<div class="t" style="left:912px;top:263px;width:109px;text-align:left;overflow:hidden;">құқық негіздері</div>
<div class="t" style="left:1022px;top:263px;width:33px;text-align:center;overflow:hidden;font-size:12.3px;">14</div>
<div class="t" style="left:22px;top:277px;width:20px;font-weight:bold;font-size:10px;line-height:15px">1</div>
<div class="t" style="left:47px;top:278px;width:107px;text-align:left;overflow:hidden;">химия</div>
<div class="t" style="left:155px;top:278px;width:32px;text-align:center;overflow:hidden;font-size:12.3px;">1</div>
<div class="t" style="left:190px;top:278px;width:108px;text-align:left;overflow:hidden;letter-spacing:-0.27px;">ағылшын тілі</div>
<div class="t" style="left:299px;top:278px;width:33px;text-align:center;overflow:hidden;font-size:12.3px;">15</div>
<div class="t" style="left:335px;top:278px;width:108px;text-align:left;overflow:hidden;">қазақ тілі</div>
<div class="t" style="left:444px;top:278px;width:33px;text-align:center;overflow:hidden;font-size:12.3px;">8</div>
<div class="t" style="left:480px;top:278px;width:106px;text-align:left;overflow:hidden;">география</div>
<div class="t" style="left:587px;top:278px;width:39px;text-align:center;overflow:hidden;font-size:12.3px;">22</div>
<div class="t" style="left:629px;top:278px;width:106px;text-align:left;overflow:hidden;">алгебра</div>
<div class="t" style="left:736px;top:278px;width:32px;text-align:center;overflow:hidden;font-size:12.3px;">11</div>
<div class="t" style="left:771px;top:278px;width:104px;text-align:left;overflow:hidden;">геометрия</div>
<div class="t" style="left:876px;top:278px;width:33px;text-align:center;overflow:hidden;">c/s</div>
<div class="t" style="left:912px;top:278px;width:109px;text-align:left;overflow:hidden;">Қазақстан тарихы</div>
<div class="t" style="left:1022px;top:278px;width:33px;text-align:center;overflow:hidden;font-size:12.3px;">14</div>
<div class="t" style="left:1058px;top:278px;width:110px;text-align:left;overflow:hidden;letter-spacing:-0.27px;">ағылшын тілі</div>
<div class="t" style="left:1171px;top:278px;width:29px;text-align:left;overflow:hidden;font-size:12.3px;">20</div>
<div class="t" style="left:1203px;top:278px;width:131px;text-align:left;overflow:hidden;letter-spacing:-0.14px;">физика/физика</div>
<div class="t" style="left:1337px;top:278px;width:27px;text-align:left;overflow:hidden;font-size:12.3px;">12</div>
<div class="t" style="left:1367px;top:278px;width:106px;text-align:left;overflow:hidden;">дүниежүзі тарихы</div>
<div class="t" style="left:1476px;top:278px;width:31px;text-align:left;overflow:hidden;font-size:12.3px;">2</div>
<div class="t" style="left:1510px;top:278px;width:111px;text-align:left;overflow:hidden;letter-spacing:-0.08px;">қазақ әдебиеті</div>
<div class="t" style="left:1624px;top:278px;width:24px;text-align:left;overflow:hidden;font-size:12.3px;">7</div>
<div class="t" style="left:22px;top:292px;width:20px;font-weight:bold;font-size:10px;line-height:15px">2</div>
<div class="t" style="left:47px;top:293px;width:107px;text-align:left;overflow:hidden;">физика</div>
<div class="t" style="left:155px;top:293px;width:32px;text-align:center;overflow:hidden;font-size:12.3px;">1</div>
<div class="t" style="left:190px;top:293px;width:108px;text-align:left;overflow:hidden;">дүниежүзі тарихы</div>
<div class="t" style="left:299px;top:293px;width:33px;text-align:center;overflow:hidden;">c/s</div>
<div class="t" style="left:335px;top:293px;width:108px;text-align:left;overflow:hidden;">химия</div>
<div class="t" style="left:444px;top:293px;width:33px;text-align:center;overflow:hidden;font-size:12.3px;">8</div>
<div class="t" style="left:480px;top:293px;width:106px;text-align:left;overflow:hidden;letter-spacing:-0.27px;">ағылшын тілі</div>
<div class="t" style="left:587px;top:293px;width:39px;text-align:center;overflow:hidden;font-size:12.3px;">22</div>
<div class="t" style="left:629px;top:293px;width:106px;text-align:left;overflow:hidden;">физика</div>
<div class="t" style="left:736px;top:293px;width:32px;text-align:center;overflow:hidden;font-size:12.3px;">11</div>
<div class="t" style="left:771px;top:293px;width:104px;text-align:left;overflow:hidden;letter-spacing:0.09px;">информатика</div>
<div class="t" style="left:876px;top:293px;width:33px;text-align:center;overflow:hidden;font-size:12.3px;">21</div>
<div class="t" style="left:912px;top:293px;width:109px;text-align:left;overflow:hidden;">алгебра</div>
<div class="t" style="left:1022px;top:293px;width:33px;text-align:center;overflow:hidden;font-size:12.3px;">14</div>
<div class="t" style="left:1058px;top:293px;width:110px;text-align:left;overflow:hidden;">дүниежүзі тарихы</div>
<div class="t" style="left:1171px;top:293px;width:29px;text-align:left;overflow:hidden;font-size:12.3px;">20</div>
<div class="t" style="left:1203px;top:293px;width:131px;text-align:left;overflow:hidden;letter-spacing:0.15px;">география/география</div>
<div class="t" style="left:1337px;top:293px;width:27px;text-align:left;overflow:hidden;font-size:12.3px;">12</div>
<div class="t" style="left:1367px;top:293px;width:106px;text-align:left;overflow:hidden;">қазақ тілі</div>
<div class="t" style="left:1476px;top:293px;width:31px;text-align:left;overflow:hidden;font-size:12.3px;">2</div>
<div class="t" style="left:1510px;top:293px;width:111px;text-align:left;overflow:hidden;">орыс тілі мен әдебиеті</div>
<div class="t" style="left:1624px;top:293px;width:24px;text-align:left;overflow:hidden;">c/s</div>
<div class="t" style="left:22px;top:307px;width:20px;font-weight:bold;font-size:10px;line-height:15px">3</div>
<div class="t" style="left:47px;top:308px;width:107px;text-align:left;overflow:hidden;">Қазақстан тарихы</div>
<div class="t" style="left:155px;top:308px;width:32px;text-align:center;overflow:hidden;font-size:12.3px;">1</div>
<div class="t" style="left:190px;top:308px;width:108px;text-align:left;overflow:hidden;">биология</div>
<div class="t" style="left:299px;top:308px;width:33px;text-align:center;overflow:hidden;font-size:12.3px;">15</div>
<div class="t" style="left:335px;top:308px;width:108px;text-align:left;overflow:hidden;">қазақ тілі</div>
<div class="t" style="left:444px;top:308px;width:33px;text-align:center;overflow:hidden;">c/s</div>
<div class="t" style="left:480px;top:308px;width:106px;text-align:left;overflow:hidden;letter-spacing:-0.08px;">қазақ әдебиеті</div>
<div class="t" style="left:587px;top:308px;width:39px;text-align:center;overflow:hidden;font-size:12.3px;">22</div>
<div class="t" style="left:629px;top:308px;width:106px;text-align:left;overflow:hidden;">химия</div>
<div class="t" style="left:736px;top:308px;width:32px;text-align:center;overflow:hidden;font-size:12.3px;">11</div>
<div class="t" style="left:771px;top:308px;width:104px;text-align:left;overflow:hidden;letter-spacing:-0.27px;">ағылшын тілі</div>
<div class="t" style="left:876px;top:308px;width:33px;text-align:center;overflow:hidden;font-size:12.3px;">21</div>
<div class="t" style="left:912px;top:308px;width:109px;text-align:left;overflow:hidden;letter-spacing:0.09px;">информатика</div>
<div class="t" style="left:1022px;top:308px;width:33px;text-align:center;overflow:hidden;font-size:12.3px;">14</div>
<div class="t" style="left:1058px;top:308px;width:110px;text-align:left;overflow:hidden;letter-spacing:-0.12px;">дене шынықтыру</div>
<div class="t" style="left:1171px;top:308px;width:29px;text-align:left;overflow:hidden;">c/s</div>
<div class="t" style="left:1203px;top:308px;width:131px;text-align:left;overflow:hidden;letter-spacing:0.07px;">алгебра/алгебра</div>
<div class="t" style="left:1337px;top:308px;width:27px;text-align:left;overflow:hidden;font-size:12.3px;">12</div>
<div class="t" style="left:1367px;top:308px;width:106px;text-align:left;overflow:hidden;">Қазақстан тарихы</div>
<div class="t" style="left:1476px;top:308px;width:31px;text-align:left;overflow:hidden;font-size:12.3px;">2</div>
<div class="t" style="left:1510px;top:308px;width:111px;text-align:left;overflow:hidden;">құқық негіздері</div>
<div class="t" style="left:1624px;top:308px;width:24px;text-align:left;overflow:hidden;font-size:12.3px;">7</div>
<div class="t" style="left:22px;top:322px;width:20px;font-weight:bold;font-size:10px;line-height:15px">4</div>
<div class="t" style="left:47px;top:323px;width:107px;text-align:left;overflow:hidden;letter-spacing:-0.27px;">ағылшын тілі</div>
<div class="t" style="left:155px;top:323px;width:32px;text-align:center;overflow:hidden;font-size:12.3px;">1</div>
<div class="t" style="left:190px;top:323px;width:108px;text-align:left;overflow:hidden;letter-spacing:-0.08px;">қазақ әдебиеті</div>
<div class="t" style="left:299px;top:323px;width:33px;text-align:center;overflow:hidden;font-size:12.3px;">15</div>
<div class="t" style="left:335px;top:323px;width:108px;text-align:left;overflow:hidden;">алгебра</div>
<div class="t" style="left:444px;top:323px;width:33px;text-align:center;overflow:hidden;font-size:12.3px;">8</div>
<div class="t" style="left:480px;top:323px;width:106px;text-align:left;overflow:hidden;">химия</div>
<div class="t" style="left:587px;top:323px;width:39px;text-align:center;overflow:hidden;font-size:12.3px;">22</div>
<div class="t" style="left:629px;top:323px;width:106px;text-align:left;overflow:hidden;">құқық негіздері</div>
<div class="t" style="left:736px;top:323px;width:32px;text-align:center;overflow:hidden;font-size:12.3px;">11</div>
<div class="t" style="left:771px;top:323px;width:104px;text-align:left;overflow:hidden;">қазақ тілі</div>
<div class="t" style="left:876px;top:323px;width:33px;text-align:center;overflow:hidden;font-size:12.3px;">21</div>
<div class="t" style="left:912px;top:323px;width:109px;text-align:left;overflow:hidden;">география</div>
<div class="t" style="left:1022px;top:323px;width:33px;text-align:center;overflow:hidden;font-size:12.3px;">14</div>
<div class="t" style="left:1058px;top:323px;width:110px;text-align:left;overflow:hidden;">орыс тілі мен әдебиеті</div>
<div class="t" style="left:1171px;top:323px;width:29px;text-align:left;overflow:hidden;font-size:12.3px;">20</div>
<div class="t" style="left:1203px;top:323px;width:131px;text-align:left;overflow:hidden;letter-spacing:0.15px;">геометрия/геометрия</div>
<div class="t" style="left:1337px;top:323px;width:27px;text-align:left;overflow:hidden;font-size:12.3px;">12</div>
<div class="t" style="left:1367px;top:323px;width:106px;text-align:left;overflow:hidden;">физика</div>
<div class="t" style="left:1476px;top:323px;width:31px;text-align:left;overflow:hidden;font-size:12.3px;">2</div>
<div class="t" style="left:1510px;top:323px;width:111px;text-align:left;overflow:hidden;letter-spacing:-0.12px;">дене шынықтыру</div>
<div class="t" style="left:1624px;top:323px;width:24px;text-align:left;overflow:hidden;font-size:12.3px;">7</div>
<div class="t" style="left:22px;top:337px;width:20px;font-weight:bold;font-size:10px;line-height:15px">5</div>
<div class="t" style="left:47px;top:338px;width:107px;text-align:left;overflow:hidden;">дүниежүзі тарихы</div>
<div class="t" style="left:155px;top:338px;width:32px;text-align:center;overflow:hidden;">c/s</div>
<div class="t" style="left:190px;top:338px;width:108px;text-align:left;overflow:hidden;">химия</div>
<div class="t" style="left:299px;top:338px;width:33px;text-align:center;overflow:hidden;font-size:12.3px;">15</div>
<div class="t" style="left:335px;top:338px;width:108px;text-align:left;overflow:hidden;">география</div>
<div class="t" style="left:444px;top:338px;width:33px;text-align:center;overflow:hidden;font-size:12.3px;">8</div>
<div class="t" style="left:480px;top:338px;width:106px;text-align:left;overflow:hidden;">қазақ тілі</div>
<div class="t" style="left:587px;top:338px;width:39px;text-align:center;overflow:hidden;font-size:12.3px;">22</div>
<div class="t" style="left:629px;top:338px;width:106px;text-align:left;overflow:hidden;letter-spacing:-0.12px;">қазақ т./ағылшын тілі</div>
<div class="t" style="left:736px;top:338px;width:32px;text-align:center;overflow:hidden;font-size:12.3px;">11</div>
<div class="t" style="left:771px;top:338px;width:104px;text-align:left;overflow:hidden;">физика</div>
<div class="t" style="left:876px;top:338px;width:33px;text-align:center;overflow:hidden;font-size:12.3px;">21</div>
<div class="t" style="left:912px;top:338px;width:109px;text-align:left;overflow:hidden;letter-spacing:-0.12px;">дене шынықтыру</div>
<div class="t" style="left:1022px;top:338px;width:33px;text-align:center;overflow:hidden;">c/s</div>
<div class="t" style="left:1058px;top:338px;width:110px;text-align:left;overflow:hidden;">Қазақстан тарихы</div>
<div class="t" style="left:1171px;top:338px;width:29px;text-align:left;overflow:hidden;font-size:12.3px;">20</div>
<div class="t" style="left:1367px;top:338px;width:106px;text-align:left;overflow:hidden;">орыс тілі мен әдебиеті</div>
<div class="t" style="left:1476px;top:338px;width:31px;text-align:left;overflow:hidden;font-size:12.3px;">2</div>
<div class="t" style="left:22px;top:352px;width:20px;font-weight:bold;font-size:10px;line-height:15px">6</div>
<div class="t" style="left:47px;top:353px;width:107px;text-align:left;overflow:hidden;">география</div>
<div class="t" style="left:155px;top:353px;width:32px;text-align:center;overflow:hidden;font-size:12.3px;">1</div>
<div class="t" style="left:190px;top:353px;width:108px;text-align:left;overflow:hidden;">қазақ тілі</div>
<div class="t" style="left:299px;top:353px;width:33px;text-align:center;overflow:hidden;font-size:12.3px;">15</div>
<div class="t" style="left:335px;top:353px;width:108px;text-align:left;overflow:hidden;">дүниежүзі тарихы</div>
<div class="t" style="left:444px;top:353px;width:33px;text-align:center;overflow:hidden;font-size:12.3px;">8</div>
<div class="t" style="left:480px;top:353px;width:106px;text-align:left;overflow:hidden;letter-spacing:-0.12px;">дене шынықтыру</div>
<div class="t" style="left:587px;top:353px;width:39px;text-align:center;overflow:hidden;">c/s</div>
<div class="t" style="left:629px;top:353px;width:106px;text-align:left;overflow:hidden;letter-spacing:-0.12px;">ағылшын т./қазақ тілі</div>
<div class="t" style="left:736px;top:353px;width:32px;text-align:center;overflow:hidden;font-size:12.3px;">11</div>
<div class="t" style="left:771px;top:353px;width:104px;text-align:left;overflow:hidden;">химия</div>
<div class="t" style="left:876px;top:353px;width:33px;text-align:center;overflow:hidden;font-size:12.3px;">21</div>
<div class="t" style="left:912px;top:353px;width:109px;text-align:left;overflow:hidden;letter-spacing:-0.27px;">ағылшын тілі</div>
<div class="t" style="left:1022px;top:353px;width:33px;text-align:center;overflow:hidden;font-size:12.3px;">14</div>
<div class="t" style="left:1058px;top:353px;width:110px;text-align:left;overflow:hidden;">география</div>
<div class="t" style="left:1171px;top:353px;width:29px;text-align:left;overflow:hidden;font-size:12.3px;">20</div>
<div class="t" style="left:22px;top:367px;width:20px;font-weight:bold;font-size:10px;line-height:15px">7</div>
<div class="t" style="left:1022px;top:368px;width:33px;text-align:center;overflow:hidden;font-size:12.3px;">14</div>
<div class="t" style="left:22px;top:382px;width:20px;font-weight:bold;font-size:10px;line-height:15px">1</div>
<div class="t" style="left:47px;top:383px;width:107px;text-align:left;overflow:hidden;">қазақ тілі</div>
<div class="t" style="left:155px;top:383px;width:32px;text-align:center;overflow:hidden;font-size:12.3px;">1</div>
<div class="t" style="left:190px;top:383px;width:108px;text-align:left;overflow:hidden;">орыс тілі мен әдебиеті</div>
<div class="t" style="left:299px;top:383px;width:33px;text-align:center;overflow:hidden;font-size:12.3px;">15</div>
<div class="t" style="left:335px;top:383px;width:108px;text-align:left;overflow:hidden;letter-spacing:-0.12px;">дене шынықтыру</div>
<div class="t" style="left:444px;top:383px;width:33px;text-align:center;overflow:hidden;">c/s</div>
<div class="t" style="left:480px;top:383px;width:106px;text-align:left;overflow:hidden;">Қазақстан тарихы</div>
<div class="t" style="left:587px;top:383px;width:39px;text-align:center;overflow:hidden;font-size:12.3px;">22</div>
<div class="t" style="left:629px;top:383px;width:106px;text-align:left;overflow:hidden;">геометрия</div>
<div class="t" style="left:736px;top:383px;width:32px;text-align:center;overflow:hidden;font-size:12.3px;">11</div>
<div class="t" style="left:771px;top:383px;width:104px;text-align:left;overflow:hidden;">орыс тілі мен әдебиеті</div>
<div class="t" style="left:876px;top:383px;width:33px;text-align:center;overflow:hidden;font-size:12.3px;">21</div>
<div class="t" style="left:912px;top:383px;width:109px;text-align:left;overflow:hidden;">химия</div>
<div class="t" style="left:1022px;top:383px;width:33px;text-align:center;overflow:hidden;font-size:12.3px;">14</div>
<div class="t" style="left:1058px;top:383px;width:110px;text-align:left;overflow:hidden;letter-spacing:-0.27px;">ағылшын тілі</div>
<div class="t" style="left:1171px;top:383px;width:29px;text-align:left;overflow:hidden;font-size:12.3px;">20</div>
<div class="t" style="left:1203px;top:383px;width:131px;text-align:left;overflow:hidden;letter-spacing:0.15px;">география/география</div>
<div class="t" style="left:1337px;top:383px;width:27px;text-align:left;overflow:hidden;font-size:12.3px;">12</div>
<div class="t" style="left:1367px;top:383px;width:106px;text-align:left;overflow:hidden;">дүниежүзі тарихы</div>
<div class="t" style="left:1476px;top:383px;width:31px;text-align:left;overflow:hidden;font-size:12.3px;">2</div>
<div class="t" style="left:1510px;top:383px;width:111px;text-align:left;overflow:hidden;">қазақ тілі</div>
<div class="t" style="left:1624px;top:383px;width:24px;text-align:left;overflow:hidden;font-size:12.3px;">7</div>
<div class="t" style="left:22px;top:397px;width:20px;font-weight:bold;font-size:10px;line-height:15px">2</div>
<div class="t" style="left:47px;top:398px;width:107px;text-align:left;overflow:hidden;">орыс тілі мен әдебиеті</div>
<div class="t" style="left:155px;top:398px;width:32px;text-align:center;overflow:hidden;font-size:12.3px;">1</div>
<div class="t" style="left:190px;top:398px;width:108px;text-align:left;overflow:hidden;">география</div>
<div class="t" style="left:299px;top:398px;width:33px;text-align:center;overflow:hidden;font-size:12.3px;">15</div>
<div class="t" style="left:335px;top:398px;width:108px;text-align:left;overflow:hidden;">геометрия</div>
<div class="t" style="left:444px;top:398px;width:33px;text-align:center;overflow:hidden;font-size:12.3px;">8</div>
<div class="t" style="left:480px;top:398px;width:106px;text-align:left;overflow:hidden;letter-spacing:-0.08px;">қазақ әдебиеті</div>
<div class="t" style="left:587px;top:398px;width:39px;text-align:center;overflow:hidden;font-size:12.3px;">22</div>
<div class="t" style="left:629px;top:398px;width:106px;text-align:left;overflow:hidden;">дүниежүзі тарихы</div>
<div class="t" style="left:736px;top:398px;width:32px;text-align:center;overflow:hidden;font-size:12.3px;">11</div>
<div class="t" style="left:771px;top:398px;width:104px;text-align:left;overflow:hidden;">биология</div>
<div class="t" style="left:876px;top:398px;width:33px;text-align:center;overflow:hidden;font-size:12.3px;">21</div>
<div class="t" style="left:912px;top:398px;width:109px;text-align:left;overflow:hidden;">орыс тілі мен әдебиеті</div>
<div class="t" style="left:1022px;top:398px;width:33px;text-align:center;overflow:hidden;font-size:12.3px;">14</div>
<div class="t" style="left:1058px;top:398px;width:110px;text-align:left;overflow:hidden;">химия</div>
<div class="t" style="left:1171px;top:398px;width:29px;text-align:left;overflow:hidden;font-size:12.3px;">20</div>
<div class="t" style="left:1203px;top:398px;width:131px;text-align:left;overflow:hidden;letter-spacing:0.07px;">алгебра/алгебра</div>
<div class="t" style="left:1337px;top:398px;width:27px;text-align:left;overflow:hidden;font-size:12.3px;">12</div>
<div class="t" style="left:1367px;top:398px;width:106px;text-align:left;overflow:hidden;">география</div>
<div class="t" style="left:1476px;top:398px;width:31px;text-align:left;overflow:hidden;font-size:12.3px;">2</div>
<div class="t" style="left:1510px;top:398px;width:111px;text-align:left;overflow:hidden;">Қазақстан тарихы</div>
<div class="t" style="left:1624px;top:398px;width:24px;text-align:left;overflow:hidden;font-size:12.3px;">7</div>
<div class="t" style="left:22px;top:412px;width:20px;font-weight:bold;font-size:10px;line-height:15px">3</div>
<div class="t" style="left:47px;top:413px;width:107px;text-align:left;overflow:hidden;letter-spacing:-0.08px;">қазақ әдебиеті</div>
<div class="t" style="left:155px;top:413px;width:32px;text-align:center;overflow:hidden;font-size:12.3px;">1</div>
<div class="t" style="left:190px;top:413px;width:108px;text-align:left;overflow:hidden;letter-spacing:-0.08px;">қазақ әдебиеті</div>
<div class="t" style="left:299px;top:413px;width:33px;text-align:center;overflow:hidden;font-size:12.3px;">15</div>
<div class="t" style="left:335px;top:413px;width:108px;text-align:left;overflow:hidden;">Қазақстан тарихы</div>
<div class="t" style="left:444px;top:413px;width:33px;text-align:center;overflow:hidden;font-size:12.3px;">8</div>
<div class="t" style="left:480px;top:413px;width:106px;text-align:left;overflow:hidden;letter-spacing:-0.27px;">ағылшын тілі</div>
<div class="t" style="left:587px;top:413px;width:39px;text-align:center;overflow:hidden;">c/s</div>
<div class="t" style="left:629px;top:413px;width:106px;text-align:left;overflow:hidden;">орыс тілі мен әдебиеті</div>
<div class="t" style="left:736px;top:413px;width:32px;text-align:center;overflow:hidden;font-size:12.3px;">11</div>
<div class="t" style="left:771px;top:413px;width:104px;text-align:left;overflow:hidden;letter-spacing:-0.27px;">ағылшын тілі</div>
<div class="t" style="left:876px;top:413px;width:33px;text-align:center;overflow:hidden;font-size:12.3px;">21</div>
<div class="t" style="left:912px;top:413px;width:109px;text-align:left;overflow:hidden;">алгебра</div>
<div class="t" style="left:1022px;top:413px;width:33px;text-align:center;overflow:hidden;font-size:12.3px;">14</div>
<div class="t" style="left:1058px;top:413px;width:110px;text-align:left;overflow:hidden;">Қазақстан тарихы</div>
<div class="t" style="left:1171px;top:413px;width:29px;text-align:left;overflow:hidden;font-size:12.3px;">20</div>
<div class="t" style="left:1203px;top:413px;width:131px;text-align:left;overflow:hidden;">дүниежүзі тарихы</div>
<div class="t" style="left:1337px;top:413px;width:27px;text-align:left;overflow:hidden;font-size:12.3px;">12</div>
<div class="t" style="left:1367px;top:413px;width:106px;text-align:left;overflow:hidden;letter-spacing:-0.12px;">дене шынықтыру</div>
<div class="t" style="left:1476px;top:413px;width:31px;text-align:left;overflow:hidden;">c/s</div>
<div class="t" style="left:1510px;top:413px;width:111px;text-align:left;overflow:hidden;">геометрия</div>
<div class="t" style="left:1624px;top:413px;width:24px;text-align:left;overflow:hidden;font-size:12.3px;">7</div>
<div class="t" style="left:22px;top:427px;width:20px;font-weight:bold;font-size:10px;line-height:15px">4</div>
<div class="t" style="left:47px;top:428px;width:107px;text-align:left;overflow:hidden;letter-spacing:-0.27px;">ағылшын тілі</div>
<div class="t" style="left:155px;top:428px;width:32px;text-align:center;overflow:hidden;font-size:12.3px;">1</div>
<div class="t" style="left:190px;top:428px;width:108px;text-align:left;overflow:hidden;">алгебра</div>
<div class="t" style="left:299px;top:428px;width:33px;text-align:center;overflow:hidden;font-size:12.3px;">15</div>
<div class="t" style="left:335px;top:428px;width:108px;text-align:left;overflow:hidden;">орыс тілі мен әдебиеті</div>
<div class="t" style="left:444px;top:428px;width:33px;text-align:center;overflow:hidden;font-size:12.3px;">8</div>
<div class="t" style="left:480px;top:428px;width:106px;text-align:left;overflow:hidden;">орыс тілі мен әдебиеті</div>
<div class="t" style="left:587px;top:428px;width:39px;text-align:center;overflow:hidden;font-size:12.3px;">22</div>
<div class="t" style="left:629px;top:428px;width:106px;text-align:left;overflow:hidden;">химия</div>
<div class="t" style="left:736px;top:428px;width:32px;text-align:center;overflow:hidden;font-size:12.3px;">11</div>
<div class="t" style="left:771px;top:428px;width:104px;text-align:left;overflow:hidden;letter-spacing:-0.08px;">қазақ әдебиеті</div>
<div class="t" style="left:876px;top:428px;width:33px;text-align:center;overflow:hidden;font-size:12.3px;">21</div>
<div class="t" style="left:912px;top:428px;width:109px;text-align:left;overflow:hidden;">Қазақстан тарихы</div>
<div class="t" style="left:1022px;top:428px;width:33px;text-align:center;overflow:hidden;font-size:12.3px;">14</div>
<div class="t" style="left:1058px;top:428px;width:110px;text-align:left;overflow:hidden;letter-spacing:-0.12px;">дене шынықтыру</div>
<div class="t" style="left:1171px;top:428px;width:29px;text-align:left;overflow:hidden;">c/s</div>
<div class="t" style="left:1203px;top:428px;width:131px;text-align:left;overflow:hidden;">дүниежүзі тарихы</div>
<div class="t" style="left:1337px;top:428px;width:27px;text-align:left;overflow:hidden;font-size:12.3px;">12</div>
<div class="t" style="left:1367px;top:428px;width:106px;text-align:left;overflow:hidden;letter-spacing:-0.08px;">қазақ әдебиеті</div>
<div class="t" style="left:1476px;top:428px;width:31px;text-align:left;overflow:hidden;font-size:12.3px;">2</div>
<div class="t" style="left:1510px;top:428px;width:111px;text-align:left;overflow:hidden;">биология</div>
<div class="t" style="left:1624px;top:428px;width:24px;text-align:left;overflow:hidden;font-size:12.3px;">7</div>
<div class="t" style="left:22px;top:442px;width:20px;font-weight:bold;font-size:10px;line-height:15px">5</div>
<div class="t" style="left:47px;top:443px;width:107px;text-align:left;overflow:hidden;">биология</div>
<div class="t" style="left:155px;top:443px;width:32px;text-align:center;overflow:hidden;font-size:12.3px;">1</div>
<div class="t" style="left:190px;top:443px;width:108px;text-align:left;overflow:hidden;">Қазақстан тарихы</div>
<div class="t" style="left:299px;top:443px;width:33px;text-align:center;overflow:hidden;font-size:12.3px;">15</div>
<div class="t" style="left:335px;top:443px;width:108px;text-align:left;overflow:hidden;letter-spacing:-0.27px;">ағылшын тілі</div>
<div class="t" style="left:444px;top:443px;width:33px;text-align:center;overflow:hidden;font-size:12.3px;">8</div>
<div class="t" style="left:480px;top:443px;width:106px;text-align:left;overflow:hidden;">химия</div>
<div class="t" style="left:587px;top:443px;width:39px;text-align:center;overflow:hidden;font-size:12.3px;">22</div>
<div class="t" style="left:629px;top:443px;width:106px;text-align:left;overflow:hidden;letter-spacing:-0.12px;">қазақ т./ағылшын тілі</div>
<div class="t" style="left:736px;top:443px;width:32px;text-align:center;overflow:hidden;font-size:12.3px;">11</div>
<div class="t" style="left:771px;top:443px;width:104px;text-align:left;overflow:hidden;">алгебра</div>
<div class="t" style="left:876px;top:443px;width:33px;text-align:center;overflow:hidden;font-size:12.3px;">21</div>
<div class="t" style="left:912px;top:443px;width:109px;text-align:left;overflow:hidden;letter-spacing:-0.12px;">дене шынықтыру</div>
<div class="t" style="left:1022px;top:443px;width:33px;text-align:center;overflow:hidden;">c/s</div>
<div class="t" style="left:1058px;top:443px;width:110px;text-align:left;overflow:hidden;">алгебра</div>
<div class="t" style="left:1171px;top:443px;width:29px;text-align:left;overflow:hidden;font-size:12.3px;">20</div>
<div class="t" style="left:1203px;top:443px;width:131px;text-align:left;overflow:hidden;">орыс т/орыс т.</div>
<div class="t" style="left:1337px;top:443px;width:27px;text-align:left;overflow:hidden;font-size:12.3px;">12</div>
<div class="t" style="left:1510px;top:443px;width:111px;text-align:left;overflow:hidden;">дүниежүзі тарихы</div>
<div class="t" style="left:1624px;top:443px;width:24px;text-align:left;overflow:hidden;font-size:12.3px;">7</div>
<div class="t" style="left:22px;top:457px;width:20px;font-weight:bold;font-size:10px;line-height:15px">6</div>
<div class="t" style="left:47px;top:458px;width:107px;text-align:left;overflow:hidden;">химия</div>
<div class="t" style="left:155px;top:458px;width:32px;text-align:center;overflow:hidden;font-size:12.3px;">1</div>
<div class="t" style="left:190px;top:458px;width:108px;text-align:left;overflow:hidden;letter-spacing:-0.27px;">ағылшын тілі</div>
<div class="t" style="left:299px;top:458px;width:33px;text-align:center;overflow:hidden;font-size:12.3px;">15</div>
<div class="t" style="left:335px;top:458px;width:108px;text-align:left;overflow:hidden;letter-spacing:-0.08px;">қазақ әдебиеті</div>
<div class="t" style="left:444px;top:458px;width:33px;text-align:center;overflow:hidden;font-size:12.3px;">8</div>
<div class="t" style="left:480px;top:458px;width:106px;text-align:left;overflow:hidden;">география</div>
<div class="t" style="left:587px;top:458px;width:39px;text-align:center;overflow:hidden;font-size:12.3px;">22</div>
<div class="t" style="left:629px;top:458px;width:106px;text-align:left;overflow:hidden;letter-spacing:-0.12px;">ағылшын т./қазақ тілі</div>
<div class="t" style="left:736px;top:458px;width:32px;text-align:center;overflow:hidden;font-size:12.3px;">11</div>
<div class="t" style="left:771px;top:458px;width:104px;text-align:left;overflow:hidden;">Қазақстан тарихы</div>
<div class="t" style="left:876px;top:458px;width:33px;text-align:center;overflow:hidden;font-size:12.3px;">21</div>
<div class="t" style="left:912px;top:458px;width:109px;text-align:left;overflow:hidden;letter-spacing:-0.27px;">ағылшын тілі</div>
<div class="t" style="left:1022px;top:458px;width:33px;text-align:center;overflow:hidden;font-size:12.3px;">14</div>
<div class="t" style="left:1058px;top:458px;width:110px;text-align:left;overflow:hidden;">орыс тілі мен әдебиеті</div>
<div class="t" style="left:1171px;top:458px;width:29px;text-align:left;overflow:hidden;font-size:12.3px;">20</div>
<div class="t" style="left:1203px;top:458px;width:131px;text-align:left;overflow:hidden;letter-spacing:-0.12px;">дене шынықтыру</div>
<div class="t" style="left:1337px;top:458px;width:27px;text-align:left;overflow:hidden;">c/s</div>
<div class="t" style="left:1510px;top:458px;width:111px;text-align:left;overflow:hidden;letter-spacing:-0.27px;">ағылшын тілі</div>
<div class="t" style="left:1624px;top:458px;width:24px;text-align:left;overflow:hidden;font-size:12.3px;">7</div>
<div class="t" style="left:22px;top:472px;width:20px;font-weight:bold;font-size:10px;line-height:15px">7</div>
<div class="t" style="left:480px;top:473px;width:106px;text-align:left;overflow:hidden;">құқық негіздері</div>
<div class="t" style="left:587px;top:473px;width:39px;text-align:center;overflow:hidden;font-size:12.3px;">22</div>
<div class="t" style="left:629px;top:473px;width:106px;text-align:left;overflow:hidden;letter-spacing:-0.12px;">дене шынықтыру</div>
<div class="t" style="left:736px;top:473px;width:32px;text-align:center;overflow:hidden;">c/s</div>
<div class="t" style="left:771px;top:473px;width:104px;text-align:left;overflow:hidden;letter-spacing:-0.12px;">дене шынықтыру</div>
<div class="t" style="left:876px;top:473px;width:33px;text-align:center;overflow:hidden;">c/s</div>
<div class="t" style="left:912px;top:473px;width:109px;text-align:left;overflow:hidden;">биология</div>
<div class="t" style="left:1022px;top:473px;width:33px;text-align:center;overflow:hidden;font-size:12.3px;">14</div>
<div class="t" style="left:22px;top:488px;width:20px;font-family:'Liberation Sans',sans-serif;font-weight:bold;font-size:9.6px;line-height:16px">1</div>
<div class="t" style="left:47px;top:488px;width:107px;text-align:left;overflow:hidden;">Қазақстан тарихы</div>
<div class="t" style="left:155px;top:488px;width:32px;text-align:center;overflow:hidden;font-size:12.3px;">1</div>
<div class="t" style="left:190px;top:488px;width:108px;text-align:left;overflow:hidden;">физика</div>
<div class="t" style="left:299px;top:488px;width:33px;text-align:center;overflow:hidden;font-size:12.3px;">15</div>
<div class="t" style="left:335px;top:488px;width:108px;text-align:left;overflow:hidden;">физика</div>
<div class="t" style="left:444px;top:488px;width:33px;text-align:center;overflow:hidden;font-size:12.3px;">8</div>
<div class="t" style="left:480px;top:488px;width:106px;text-align:left;overflow:hidden;letter-spacing:-0.12px;">дене шынықтыру</div>
<div class="t" style="left:587px;top:488px;width:39px;text-align:center;overflow:hidden;font-size:12.3px;">22</div>
<div class="t" style="left:629px;top:488px;width:106px;text-align:left;overflow:hidden;">Қазақстан тарихы</div>
<div class="t" style="left:736px;top:488px;width:32px;text-align:center;overflow:hidden;">c/s</div>
<div class="t" style="left:771px;top:488px;width:104px;text-align:left;overflow:hidden;">география</div>
<div class="t" style="left:876px;top:488px;width:33px;text-align:center;overflow:hidden;font-size:12.3px;">21</div>
<div class="t" style="left:912px;top:488px;width:109px;text-align:left;overflow:hidden;">биология</div>
<div class="t" style="left:1022px;top:488px;width:33px;text-align:center;overflow:hidden;font-size:12.3px;">14</div>
<div class="t" style="left:1058px;top:488px;width:110px;text-align:left;overflow:hidden;">дүниежүзі тарихы</div>
<div class="t" style="left:1171px;top:488px;width:29px;text-align:left;overflow:hidden;font-size:12.3px;">20</div>
<div class="t" style="left:1203px;top:488px;width:131px;text-align:left;overflow:hidden;letter-spacing:0.15px;">геометрия/геометрия</div>
<div class="t" style="left:1337px;top:488px;width:27px;text-align:left;overflow:hidden;font-size:12.3px;">12</div>
<div class="t" style="left:1367px;top:488px;width:106px;text-align:left;overflow:hidden;letter-spacing:-0.08px;">қазақ әдебиеті</div>
<div class="t" style="left:1476px;top:488px;width:31px;text-align:left;overflow:hidden;font-size:12.3px;">2</div>
<div class="t" style="left:1510px;top:488px;width:111px;text-align:left;overflow:hidden;">өзін-өзі тану</div>
<div class="t" style="left:1624px;top:488px;width:24px;text-align:left;overflow:hidden;font-size:12.3px;">7</div>
<div class="t" style="left:22px;top:503px;width:20px;font-family:'Liberation Sans',sans-serif;font-weight:bold;font-size:9.6px;line-height:16px">2</div>
<div class="t" style="left:47px;top:503px;width:107px;text-align:left;overflow:hidden;">физика</div>
<div class="t" style="left:155px;top:503px;width:32px;text-align:center;overflow:hidden;font-size:12.3px;">1</div>
<div class="t" style="left:190px;top:503px;width:108px;text-align:left;overflow:hidden;">өзін-өзі тану</div>
<div class="t" style="left:299px;top:503px;width:33px;text-align:center;overflow:hidden;font-size:12.3px;">15</div>
<div class="t" style="left:335px;top:503px;width:108px;text-align:left;overflow:hidden;letter-spacing:-0.08px;">қазақ әдебиеті</div>
<div class="t" style="left:444px;top:503px;width:33px;text-align:center;overflow:hidden;font-size:12.3px;">8</div>
<div class="t" style="left:480px;top:503px;width:106px;text-align:left;overflow:hidden;letter-spacing:-0.08px;">қазақ әдебиеті</div>
<div class="t" style="left:587px;top:503px;width:39px;text-align:center;overflow:hidden;font-size:12.3px;">22</div>
<div class="t" style="left:629px;top:503px;width:106px;text-align:left;overflow:hidden;">география</div>
<div class="t" style="left:736px;top:503px;width:32px;text-align:center;overflow:hidden;font-size:12.3px;">11</div>
<div class="t" style="left:771px;top:503px;width:104px;text-align:left;overflow:hidden;">геометрия</div>
<div class="t" style="left:876px;top:503px;width:33px;text-align:center;overflow:hidden;font-size:12.3px;">21</div>
<div class="t" style="left:912px;top:503px;width:109px;text-align:left;overflow:hidden;">геометрия</div>
<div class="t" style="left:1022px;top:503px;width:33px;text-align:center;overflow:hidden;font-size:12.3px;">14</div>
<div class="t" style="left:1058px;top:503px;width:110px;text-align:left;overflow:hidden;letter-spacing:0.09px;">информатика</div>
<div class="t" style="left:1171px;top:503px;width:29px;text-align:left;overflow:hidden;font-size:12.3px;">20</div>
<div class="t" style="left:1203px;top:503px;width:131px;text-align:left;overflow:hidden;letter-spacing:-0.12px;">дене шынықтыру</div>
<div class="t" style="left:1337px;top:503px;width:27px;text-align:left;overflow:hidden;">c/s</div>
<div class="t" style="left:1367px;top:503px;width:106px;text-align:left;overflow:hidden;">дүниежүзі тарихы</div>
<div class="t" style="left:1476px;top:503px;width:31px;text-align:left;overflow:hidden;font-size:12.3px;">2</div>
<div class="t" style="left:1510px;top:503px;width:111px;text-align:left;overflow:hidden;">дүниежүзі тарихы</div>
<div class="t" style="left:1624px;top:503px;width:24px;text-align:left;overflow:hidden;font-size:12.3px;">7</div>
<div class="t" style="left:22px;top:518px;width:20px;font-family:'Liberation Sans',sans-serif;font-weight:bold;font-size:9.6px;line-height:16px">3</div>
<div class="t" style="left:47px;top:518px;width:107px;text-align:left;overflow:hidden;letter-spacing:-0.12px;">дене шынықтыру</div>
<div class="t" style="left:155px;top:518px;width:32px;text-align:center;overflow:hidden;">c/s</div>
<div class="t" style="left:190px;top:518px;width:108px;text-align:left;overflow:hidden;letter-spacing:-0.08px;">қазақ әдебиеті</div>
<div class="t" style="left:299px;top:518px;width:33px;text-align:center;overflow:hidden;font-size:12.3px;">15</div>
<div class="t" style="left:335px;top:518px;width:108px;text-align:left;overflow:hidden;">Қазақстан тарихы</div>
<div class="t" style="left:444px;top:518px;width:33px;text-align:center;overflow:hidden;font-size:12.3px;">8</div>
<div class="t" style="left:480px;top:518px;width:106px;text-align:left;overflow:hidden;">геометрия</div>
<div class="t" style="left:587px;top:518px;width:39px;text-align:center;overflow:hidden;font-size:12.3px;">22</div>
<div class="t" style="left:629px;top:518px;width:106px;text-align:left;overflow:hidden;">биология</div>
<div class="t" style="left:736px;top:518px;width:32px;text-align:center;overflow:hidden;font-size:12.3px;">11</div>
<div class="t" style="left:771px;top:518px;width:104px;text-align:left;overflow:hidden;letter-spacing:-0.08px;">қазақ әдебиеті</div>
<div class="t" style="left:876px;top:518px;width:33px;text-align:center;overflow:hidden;font-size:12.3px;">21</div>
<div class="t" style="left:912px;top:518px;width:109px;text-align:left;overflow:hidden;">алгебра</div>
<div class="t" style="left:1022px;top:518px;width:33px;text-align:center;overflow:hidden;font-size:12.3px;">14</div>
<div class="t" style="left:1058px;top:518px;width:110px;text-align:left;overflow:hidden;">құқық негіздері</div>
<div class="t" style="left:1171px;top:518px;width:29px;text-align:left;overflow:hidden;font-size:12.3px;">20</div>
<div class="t" style="left:1203px;top:518px;width:131px;text-align:left;overflow:hidden;">информатика/информатика</div>
<div class="t" style="left:1337px;top:518px;width:27px;text-align:left;overflow:hidden;font-size:12.3px;">12</div>
<div class="t" style="left:1367px;top:518px;width:106px;text-align:left;overflow:hidden;letter-spacing:-0.27px;">ағылшын тілі</div>
<div class="t" style="left:1476px;top:518px;width:31px;text-align:left;overflow:hidden;font-size:12.3px;">2</div>
<div class="t" style="left:1510px;top:518px;width:111px;text-align:left;overflow:hidden;letter-spacing:-0.12px;">дене шынықтыру</div>
<div class="t" style="left:1624px;top:518px;width:24px;text-align:left;overflow:hidden;">c/s</div>
<div class="t" style="left:22px;top:533px;width:20px;font-family:'Liberation Sans',sans-serif;font-weight:bold;font-size:9.6px;line-height:16px">4</div>
<div class="t" style="left:47px;top:533px;width:107px;text-align:left;overflow:hidden;letter-spacing:-0.08px;">қазақ әдебиеті</div>
<div class="t" style="left:155px;top:533px;width:32px;text-align:center;overflow:hidden;font-size:12.3px;">1</div>
<div class="t" style="left:190px;top:533px;width:108px;text-align:left;overflow:hidden;">Қазақстан тарихы</div>
<div class="t" style="left:299px;top:533px;width:33px;text-align:center;overflow:hidden;">c/s</div>
<div class="t" style="left:335px;top:533px;width:108px;text-align:left;overflow:hidden;">өзін-өзі тану</div>
<div class="t" style="left:444px;top:533px;width:33px;text-align:center;overflow:hidden;font-size:12.3px;">8</div>
<div class="t" style="left:480px;top:533px;width:106px;text-align:left;overflow:hidden;">дүниежүзі тарихы</div>
<div class="t" style="left:587px;top:533px;width:39px;text-align:center;overflow:hidden;font-size:12.3px;">22</div>
<div class="t" style="left:629px;top:533px;width:106px;text-align:left;overflow:hidden;letter-spacing:-0.12px;">дене шынықтыру</div>
<div class="t" style="left:736px;top:533px;width:32px;text-align:center;overflow:hidden;font-size:12.3px;">11</div>
<div class="t" style="left:771px;top:533px;width:104px;text-align:left;overflow:hidden;">алгебра</div>
<div class="t" style="left:876px;top:533px;width:33px;text-align:center;overflow:hidden;font-size:12.3px;">21</div>
<div class="t" style="left:912px;top:533px;width:109px;text-align:left;overflow:hidden;letter-spacing:0.09px;">информатика</div>
<div class="t" style="left:1022px;top:533px;width:33px;text-align:center;overflow:hidden;font-size:12.3px;">14</div>
<div class="t" style="left:1058px;top:533px;width:110px;text-align:left;overflow:hidden;letter-spacing:-0.08px;">қазақ әдебиеті</div>
<div class="t" style="left:1171px;top:533px;width:29px;text-align:left;overflow:hidden;font-size:12.3px;">20</div>
<div class="t" style="left:1203px;top:533px;width:131px;text-align:left;overflow:hidden;letter-spacing:-0.27px;">ағылшын тілі/ағылшын тілі</div>
<div class="t" style="left:1337px;top:533px;width:27px;text-align:left;overflow:hidden;font-size:12.3px;">12</div>
<div class="t" style="left:1367px;top:533px;width:106px;text-align:left;overflow:hidden;">алгебра</div>
<div class="t" style="left:1476px;top:533px;width:31px;text-align:left;overflow:hidden;">c/s</div>
<div class="t" style="left:1510px;top:533px;width:111px;text-align:left;overflow:hidden;">қазақ тілі</div>
<div class="t" style="left:1624px;top:533px;width:24px;text-align:left;overflow:hidden;font-size:12.3px;">7</div>
<div class="t" style="left:22px;top:548px;width:20px;font-family:'Liberation Sans',sans-serif;font-weight:bold;font-size:9.6px;line-height:16px">5</div>
<div class="t" style="left:47px;top:548px;width:107px;text-align:left;overflow:hidden;">география</div>
<div class="t" style="left:155px;top:548px;width:32px;text-align:center;overflow:hidden;font-size:12.3px;">1</div>
<div class="t" style="left:190px;top:548px;width:108px;text-align:left;overflow:hidden;letter-spacing:-0.12px;">дене шынықтыру</div>
<div class="t" style="left:299px;top:548px;width:33px;text-align:center;overflow:hidden;font-size:12.3px;">15</div>
<div class="t" style="left:335px;top:548px;width:108px;text-align:left;overflow:hidden;">биология</div>
<div class="t" style="left:444px;top:548px;width:33px;text-align:center;overflow:hidden;font-size:12.3px;">8</div>
<div class="t" style="left:480px;top:548px;width:106px;text-align:left;overflow:hidden;">алгебра</div>
<div class="t" style="left:587px;top:548px;width:39px;text-align:center;overflow:hidden;font-size:12.3px;">22</div>
<div class="t" style="left:629px;top:548px;width:106px;text-align:left;overflow:hidden;letter-spacing:-0.08px;">қазақ әдебиеті</div>
<div class="t" style="left:736px;top:548px;width:32px;text-align:center;overflow:hidden;font-size:12.3px;">11</div>
<div class="t" style="left:771px;top:548px;width:104px;text-align:left;overflow:hidden;">Қазақстан тарихы</div>
<div class="t" style="left:876px;top:548px;width:33px;text-align:center;overflow:hidden;font-size:12.3px;">21</div>
<div class="t" style="left:912px;top:548px;width:109px;text-align:left;overflow:hidden;letter-spacing:-0.27px;">ағылшын тілі</div>
<div class="t" style="left:1022px;top:548px;width:33px;text-align:center;overflow:hidden;font-size:12.3px;">14</div>
<div class="t" style="left:1058px;top:548px;width:110px;text-align:left;overflow:hidden;">қазақ тілі</div>
<div class="t" style="left:1171px;top:548px;width:29px;text-align:left;overflow:hidden;font-size:12.3px;">20</div>
<div class="t" style="left:1367px;top:548px;width:106px;text-align:left;overflow:hidden;">геометрия</div>
<div class="t" style="left:1476px;top:548px;width:31px;text-align:left;overflow:hidden;font-size:12.3px;">2</div>
<div class="t" style="left:1510px;top:548px;width:111px;text-align:left;overflow:hidden;letter-spacing:-0.27px;">ағылшын тілі</div>
<div class="t" style="left:1624px;top:548px;width:24px;text-align:left;overflow:hidden;font-size:12.3px;">7</div>
<div class="t" style="left:22px;top:563px;width:20px;font-family:'Liberation Sans',sans-serif;font-weight:bold;font-size:9.6px;line-height:16px">6</div>
<div class="t" style="left:47px;top:563px;width:107px;text-align:left;overflow:hidden;">өзін-өзі тану</div>
<div class="t" style="left:155px;top:563px;width:32px;text-align:center;overflow:hidden;font-size:12.3px;">1</div>
<div class="t" style="left:190px;top:563px;width:108px;text-align:left;overflow:hidden;">геометрия</div>
<div class="t" style="left:299px;top:563px;width:33px;text-align:center;overflow:hidden;font-size:12.3px;">15</div>
<div class="t" style="left:335px;top:563px;width:108px;text-align:left;overflow:hidden;letter-spacing:-0.12px;">дене шынықтыру</div>
<div class="t" style="left:444px;top:563px;width:33px;text-align:center;overflow:hidden;">c/s</div>
<div class="t" style="left:480px;top:563px;width:106px;text-align:left;overflow:hidden;">биология</div>
<div class="t" style="left:587px;top:563px;width:39px;text-align:center;overflow:hidden;font-size:12.3px;">22</div>
<div class="t" style="left:629px;top:563px;width:106px;text-align:left;overflow:hidden;letter-spacing:-0.08px;">қазақ әдебиеті</div>
<div class="t" style="left:736px;top:563px;width:32px;text-align:center;overflow:hidden;font-size:12.3px;">11</div>
<div class="t" style="left:771px;top:563px;width:104px;text-align:left;overflow:hidden;">дүниежүзі тарихы</div>
<div class="t" style="left:876px;top:563px;width:33px;text-align:center;overflow:hidden;font-size:12.3px;">21</div>
<div class="t" style="left:912px;top:563px;width:109px;text-align:left;overflow:hidden;">дүниежүзі тарихы</div>
<div class="t" style="left:1022px;top:563px;width:33px;text-align:center;overflow:hidden;font-size:12.3px;">14</div>
<div class="t" style="left:771px;top:578px;width:104px;text-align:left;overflow:hidden;">құқық негіздері</div>
<div class="t" style="left:876px;top:578px;width:33px;text-align:center;overflow:hidden;font-size:12.3px;">21</div>
<div class="t" style="left:1022px;top:578px;width:33px;text-align:center;overflow:hidden;font-size:12.3px;">14</div>
<div class="t" style="left:22px;top:593px;width:20px;font-family:'Liberation Sans',sans-serif;font-weight:bold;font-size:9.6px;line-height:16px">1</div>
<div class="t" style="left:47px;top:593px;width:107px;text-align:left;overflow:hidden;letter-spacing:-0.12px;">дене шынықтыру</div>
<div class="t" style="left:155px;top:593px;width:32px;text-align:center;overflow:hidden;font-size:12.3px;">1</div>
<div class="t" style="left:190px;top:593px;width:108px;text-align:left;overflow:hidden;">көркем еңбек</div>
<div class="t" style="left:299px;top:593px;width:33px;text-align:center;overflow:hidden;font-size:12.3px;">15</div>
<div class="t" style="left:335px;top:593px;width:108px;text-align:left;overflow:hidden;">геометрия</div>
<div class="t" style="left:444px;top:593px;width:33px;text-align:center;overflow:hidden;font-size:12.3px;">8</div>
<div class="t" style="left:480px;top:593px;width:106px;text-align:left;overflow:hidden;">биология</div>
<div class="t" style="left:587px;top:593px;width:38px;text-align:right;overflow:hidden;">22</div>
<div class="t" style="left:629px;top:593px;width:106px;text-align:left;overflow:hidden;">география</div>
<div class="t" style="left:736px;top:593px;width:31px;text-align:right;overflow:hidden;">11</div>
<div class="t" style="left:771px;top:593px;width:104px;text-align:left;overflow:hidden;">өзін-өзі тану</div>
<div class="t" style="left:876px;top:593px;width:32px;text-align:right;overflow:hidden;">21</div>
<div class="t" style="left:912px;top:593px;width:109px;text-align:left;overflow:hidden;font-size:11.45px;">АӘД</div>
<div class="t" style="left:1022px;top:593px;width:33px;text-align:center;overflow:hidden;font-size:12.3px;">14</div>
<div class="t" style="left:1058px;top:593px;width:110px;text-align:left;overflow:hidden;">физика</div>
<div class="t" style="left:1171px;top:593px;width:29px;text-align:left;overflow:hidden;">20</div>
<div class="t" style="left:1203px;top:593px;width:131px;text-align:left;overflow:hidden;">кәсіпкерлік бизнес негіздері</div>
<div class="t" style="left:1335px;top:593px;width:28px;text-align:right;overflow:hidden;">12</div>
<div class="t" style="left:1367px;top:593px;width:106px;text-align:left;overflow:hidden;">география</div>
<div class="t" style="left:1474px;top:593px;width:32px;text-align:right;overflow:hidden;">2</div>
<div class="t" style="left:1510px;top:593px;width:111px;text-align:left;overflow:hidden;">алгебра</div>
<div class="t" style="left:1622px;top:593px;width:24px;text-align:right;overflow:hidden;">7</div>
<div class="t" style="left:22px;top:608px;width:20px;font-family:'Liberation Sans',sans-serif;font-weight:bold;font-size:9.6px;line-height:16px">2</div>
<div class="t" style="left:47px;top:608px;width:107px;text-align:left;overflow:hidden;">геометрия</div>
<div class="t" style="left:155px;top:608px;width:32px;text-align:center;overflow:hidden;font-size:12.3px;">1</div>
<div class="t" style="left:190px;top:608px;width:108px;text-align:left;overflow:hidden;">физика</div>
<div class="t" style="left:299px;top:608px;width:33px;text-align:center;overflow:hidden;font-size:12.3px;">15</div>
<div class="t" style="left:335px;top:608px;width:108px;text-align:left;overflow:hidden;">көркем  еңбек</div>
<div class="t" style="left:444px;top:608px;width:33px;text-align:center;overflow:hidden;font-size:12.3px;">8</div>
<div class="t" style="left:480px;top:608px;width:106px;text-align:left;overflow:hidden;">физика</div>
<div class="t" style="left:587px;top:608px;width:38px;text-align:right;overflow:hidden;">22</div>
<div class="t" style="left:629px;top:608px;width:106px;text-align:left;overflow:hidden;">өзін-өзі тану</div>
<div class="t" style="left:736px;top:608px;width:31px;text-align:right;overflow:hidden;">11</div>
<div class="t" style="left:771px;top:608px;width:104px;text-align:left;overflow:hidden;letter-spacing:-0.12px;">дене шынықтыру</div>
<div class="t" style="left:876px;top:608px;width:32px;text-align:right;overflow:hidden;">21</div>
<div class="t" style="left:912px;top:608px;width:109px;text-align:left;overflow:hidden;">кәсіпкерлік  бизнес негіздері</div>
<div class="t" style="left:1022px;top:608px;width:33px;text-align:center;overflow:hidden;font-size:12.3px;">14</div>
<div class="t" style="left:1058px;top:608px;width:110px;text-align:left;overflow:hidden;">алгебра</div>
<div class="t" style="left:1171px;top:608px;width:29px;text-align:left;overflow:hidden;">20</div>
<div class="t" style="left:1203px;top:608px;width:131px;text-align:left;overflow:hidden;letter-spacing:0.15px;">география/география</div>
<div class="t" style="left:1335px;top:608px;width:28px;text-align:right;overflow:hidden;">12</div>
<div class="t" style="left:1367px;top:608px;width:106px;text-align:left;overflow:hidden;font-size:11.45px;">АӘД</div>
<div class="t" style="left:1474px;top:608px;width:32px;text-align:right;overflow:hidden;">2</div>
<div class="t" style="left:1510px;top:608px;width:111px;text-align:left;overflow:hidden;">биология</div>
<div class="t" style="left:1622px;top:608px;width:24px;text-align:right;overflow:hidden;">7</div>
<div class="t" style="left:22px;top:623px;width:20px;font-family:'Liberation Sans',sans-serif;font-weight:bold;font-size:9.6px;line-height:16px">3</div>
<div class="t" style="left:47px;top:623px;width:107px;text-align:left;overflow:hidden;">алгебра</div>
<div class="t" style="left:155px;top:623px;width:32px;text-align:center;overflow:hidden;font-size:12.3px;">1</div>
<div class="t" style="left:190px;top:623px;width:108px;text-align:left;overflow:hidden;">геометрия</div>
<div class="t" style="left:299px;top:623px;width:33px;text-align:center;overflow:hidden;font-size:12.3px;">15</div>
<div class="t" style="left:335px;top:623px;width:108px;text-align:left;overflow:hidden;">биология</div>
<div class="t" style="left:444px;top:623px;width:33px;text-align:center;overflow:hidden;font-size:12.3px;">8</div>
<div class="t" style="left:480px;top:623px;width:106px;text-align:left;overflow:hidden;">геометрия</div>
<div class="t" style="left:587px;top:623px;width:38px;text-align:right;overflow:hidden;">22</div>
<div class="t" style="left:629px;top:623px;width:106px;text-align:left;overflow:hidden;">геометрия</div>
<div class="t" style="left:736px;top:623px;width:31px;text-align:right;overflow:hidden;">11</div>
<div class="t" style="left:771px;top:623px;width:104px;text-align:left;overflow:hidden;">география</div>
<div class="t" style="left:876px;top:623px;width:32px;text-align:right;overflow:hidden;">21</div>
<div class="t" style="left:912px;top:623px;width:109px;text-align:left;overflow:hidden;">география</div>
<div class="t" style="left:1022px;top:623px;width:33px;text-align:center;overflow:hidden;font-size:12.3px;">14</div>
<div class="t" style="left:1058px;top:623px;width:110px;text-align:left;overflow:hidden;">кәсіпкерлік бизнес негіздері</div>
<div class="t" style="left:1171px;top:623px;width:29px;text-align:left;overflow:hidden;">20</div>
<div class="t" style="left:1203px;top:623px;width:131px;text-align:left;overflow:hidden;letter-spacing:-0.14px;">физика/физика</div>
<div class="t" style="left:1335px;top:623px;width:28px;text-align:right;overflow:hidden;">12</div>
<div class="t" style="left:1367px;top:623px;width:106px;text-align:left;overflow:hidden;">өзін-өзі тану</div>
<div class="t" style="left:1474px;top:623px;width:32px;text-align:right;overflow:hidden;">2</div>
<div class="t" style="left:1510px;top:623px;width:111px;text-align:left;overflow:hidden;font-size:11.45px;">АӘД</div>
<div class="t" style="left:1622px;top:623px;width:24px;text-align:right;overflow:hidden;">7</div>
<div class="t" style="left:22px;top:638px;width:20px;font-family:'Liberation Sans',sans-serif;font-weight:bold;font-size:9.6px;line-height:16px">4</div>
<div class="t" style="left:47px;top:638px;width:107px;text-align:left;overflow:hidden;">көркем еңбек</div>
<div class="t" style="left:155px;top:638px;width:32px;text-align:center;overflow:hidden;font-size:12.3px;">1</div>
<div class="t" style="left:190px;top:638px;width:108px;text-align:left;overflow:hidden;letter-spacing:-0.12px;">дене шынықтыру</div>
<div class="t" style="left:299px;top:638px;width:33px;text-align:center;overflow:hidden;font-size:12.3px;">15</div>
<div class="t" style="left:335px;top:638px;width:108px;text-align:left;overflow:hidden;">география</div>
<div class="t" style="left:444px;top:638px;width:33px;text-align:center;overflow:hidden;font-size:12.3px;">8</div>
<div class="t" style="left:480px;top:638px;width:106px;text-align:left;overflow:hidden;">алгебра</div>
<div class="t" style="left:587px;top:638px;width:38px;text-align:right;overflow:hidden;">22</div>
<div class="t" style="left:629px;top:638px;width:106px;text-align:left;overflow:hidden;">биология</div>
<div class="t" style="left:736px;top:638px;width:31px;text-align:right;overflow:hidden;">11</div>
<div class="t" style="left:912px;top:638px;width:109px;text-align:left;overflow:hidden;">өзін-өзі тану</div>
<div class="t" style="left:1022px;top:638px;width:33px;text-align:center;overflow:hidden;font-size:12.3px;">14</div>
<div class="t" style="left:1058px;top:638px;width:110px;text-align:left;overflow:hidden;font-size:11.45px;">АӘД</div>
<div class="t" style="left:1171px;top:638px;width:29px;text-align:left;overflow:hidden;">20</div>
<div class="t" style="left:1203px;top:638px;width:131px;text-align:left;overflow:hidden;letter-spacing:-0.14px;">физика/физика</div>
<div class="t" style="left:1335px;top:638px;width:28px;text-align:right;overflow:hidden;">12</div>
<div class="t" style="left:1367px;top:638px;width:106px;text-align:left;overflow:hidden;">география</div>
<div class="t" style="left:1510px;top:638px;width:200px;text-align:left;">кәсіпкерлік бизнес негіздері</div>
<div class="t" style="left:22px;top:653px;width:20px;font-family:'Liberation Sans',sans-serif;font-weight:bold;font-size:9.6px;line-height:16px">5</div>
<div class="t" style="left:47px;top:653px;width:107px;text-align:left;overflow:hidden;">биология</div>
<div class="t" style="left:155px;top:653px;width:32px;text-align:center;overflow:hidden;font-size:12.3px;">1</div>
<div class="t" style="left:190px;top:653px;width:108px;text-align:left;overflow:hidden;">география</div>
<div class="t" style="left:299px;top:653px;width:33px;text-align:center;overflow:hidden;font-size:12.3px;">15</div>
<div class="t" style="left:335px;top:653px;width:108px;text-align:left;overflow:hidden;letter-spacing:-0.12px;">дене шынықтыру</div>
<div class="t" style="left:444px;top:653px;width:33px;text-align:center;overflow:hidden;font-size:12.3px;">8</div>
<div class="t" style="left:480px;top:653px;width:106px;text-align:left;overflow:hidden;">өзін-өзі тану</div>
<div class="t" style="left:629px;top:653px;width:106px;text-align:left;overflow:hidden;">физика</div>
<div class="t" style="left:736px;top:653px;width:31px;text-align:right;overflow:hidden;">11</div>
<div class="t" style="left:22px;top:668px;width:20px;font-family:'Liberation Sans',sans-serif;font-weight:bold;font-size:9.6px;line-height:16px">6</div>
<div class="t" style="left:155px;top:668px;width:32px;text-align:center;overflow:hidden;font-size:12.3px;">1</div>
<div class="t" style="left:45px;top:53px;width:142px;text-align:center;overflow:hidden;line-height:13px;">8А</div>
<div class="t" style="left:188px;top:53px;width:144px;text-align:center;overflow:hidden;line-height:13px;">8Ә</div>
<div class="t" style="left:333px;top:53px;width:144px;text-align:center;overflow:hidden;line-height:13px;">8Б</div>
<div class="t" style="left:478px;top:53px;width:148px;text-align:center;overflow:hidden;line-height:13px;">9А</div>
<div class="t" style="left:627px;top:53px;width:141px;text-align:center;overflow:hidden;line-height:13px;">9Ә</div>
<div class="t" style="left:769px;top:53px;width:140px;text-align:center;overflow:hidden;line-height:13px;">9Б</div>
<div class="t" style="left:910px;top:53px;width:145px;text-align:center;overflow:hidden;line-height:13px;">10А</div>
<div class="t" style="left:1056px;top:53px;width:112px;text-align:center;overflow:hidden;line-height:13px;">10Ә</div>
<div class="t" style="left:1201px;top:53px;width:133px;text-align:center;overflow:hidden;line-height:13px;">11А</div>
<div class="t" style="left:1365px;top:53px;width:108px;text-align:center;overflow:hidden;line-height:13px;">11Ә</div>
<div class="t" style="left:1508px;top:53px;width:113px;text-align:center;overflow:hidden;line-height:13px;">11Б</div>
<div class="t" style="left:47px;top:7px;width:300px;text-align:left;">&quot;Бекітемін&quot;</div>
<div class="t" style="left:47px;top:22px;width:300px;text-align:left;">Мектеп-гимназия директоры:</div>
<div class="t" style="left:240px;top:22px;width:200px;text-align:left;letter-spacing:0.45px;">Т.Т.Төреқұлов</div>
<div class="t" style="left:47px;top:37px;width:300px;text-align:left;letter-spacing:0.15px;">28.02.2022 жыл</div>
<div class="t" style="left:481px;top:2px;width:400px;font-weight:bold;font-size:16.7px;letter-spacing:0.32px;line-height:21px;-webkit-text-stroke:0">2021-2022 оқу жылының сабақ кестесі</div>
<div class="t" style="left:190px;top:698px;width:400px;text-align:left;">Директордың оқу-тәрбие жұмысы жөніндегі орынбасары:</div>
<div class="t" style="left:527px;top:698px;width:200px;text-align:left;letter-spacing:0.27px;">Г.Ы.Әбдіраман</div>
<div class="g" style="left:155px;top:68px"></div>
<div class="g" style="left:299px;top:68px"></div>
<div class="g" style="left:444px;top:68px"></div>
<div class="g" style="left:736px;top:68px"></div>
<div class="g" style="left:876px;top:68px"></div>
<div class="g" style="left:1022px;top:68px"></div>
<div class="g" style="left:1169px;top:68px"></div>
<div class="g" style="left:1335px;top:68px"></div>
<div class="g" style="left:1474px;top:68px"></div>
<div class="g" style="left:1622px;top:68px"></div>
<div class="g" style="left:155px;top:83px"></div>
<div class="g" style="left:299px;top:83px"></div>
<div class="g" style="left:444px;top:83px"></div>
<div class="g" style="left:587px;top:83px"></div>
<div class="g" style="left:736px;top:83px"></div>
<div class="g" style="left:876px;top:83px"></div>
<div class="g" style="left:1022px;top:83px"></div>
<div class="g" style="left:1169px;top:83px"></div>
<div class="g" style="left:1335px;top:83px"></div>
<div class="g" style="left:1474px;top:83px"></div>
<div class="g" style="left:1622px;top:83px"></div>
<div class="g" style="left:155px;top:98px"></div>
<div class="g" style="left:444px;top:98px"></div>
<div class="g" style="left:587px;top:98px"></div>
<div class="g" style="left:736px;top:98px"></div>
<div class="g" style="left:876px;top:98px"></div>
<div class="g" style="left:1169px;top:98px"></div>
<div class="g" style="left:1335px;top:98px"></div>
<div class="g" style="left:1474px;top:98px"></div>
<div class="g" style="left:1622px;top:98px"></div>
<div class="g" style="left:299px;top:113px"></div>
<div class="g" style="left:444px;top:113px"></div>
<div class="g" style="left:587px;top:113px"></div>
<div class="g" style="left:736px;top:113px"></div>
<div class="g" style="left:876px;top:113px"></div>
<div class="g" style="left:1022px;top:113px"></div>
<div class="g" style="left:1335px;top:113px"></div>
<div class="g" style="left:1474px;top:113px"></div>
<div class="g" style="left:1622px;top:113px"></div>
<div class="g" style="left:155px;top:128px"></div>
<div class="g" style="left:299px;top:128px"></div>
<div class="g" style="left:444px;top:128px"></div>
<div class="g" style="left:587px;top:128px"></div>
<div class="g" style="left:736px;top:128px"></div>
<div class="g" style="left:1022px;top:128px"></div>
<div class="g" style="left:1169px;top:128px"></div>
<div class="g" style="left:1474px;top:128px"></div>
<div class="g" style="left:1622px;top:128px"></div>
<div class="g" style="left:155px;top:143px"></div>
<div class="g" style="left:876px;top:143px"></div>
<div class="g" style="left:155px;top:173px"></div>
<div class="g" style="left:299px;top:173px"></div>
<div class="g" style="left:444px;top:173px"></div>
<div class="g" style="left:587px;top:173px"></div>
<div class="g" style="left:736px;top:173px"></div>
<div class="g" style="left:876px;top:173px"></div>
<div class="g" style="left:1022px;top:173px"></div>
<div class="g" style="left:1169px;top:173px"></div>
<div class="g" style="left:1335px;top:173px"></div>
<div class="g" style="left:1474px;top:173px"></div>
<div class="g" style="left:1622px;top:173px"></div>
<div class="g" style="left:155px;top:188px"></div>
<div class="g" style="left:299px;top:188px"></div>
<div class="g" style="left:444px;top:188px"></div>
<div class="g" style="left:587px;top:188px"></div>
<div class="g" style="left:736px;top:188px"></div>
<div class="g" style="left:876px;top:188px"></div>
<div class="g" style="left:1022px;top:188px"></div>
<div class="g" style="left:1169px;top:188px"></div>
<div class="g" style="left:1335px;top:188px"></div>
<div class="g" style="left:1474px;top:188px"></div>
<div class="g" style="left:1622px;top:188px"></div>
<div class="g" style="left:155px;top:203px"></div>
<div class="g" style="left:299px;top:203px"></div>
<div class="g" style="left:444px;top:203px"></div>
<div class="g" style="left:587px;top:203px"></div>
<div class="g" style="left:736px;top:203px"></div>
<div class="g" style="left:876px;top:203px"></div>
<div class="g" style="left:1022px;top:203px"></div>
<div class="g" style="left:1169px;top:203px"></div>
<div class="g" style="left:1335px;top:203px"></div>
<div class="g" style="left:1474px;top:203px"></div>
<div class="g" style="left:1622px;top:203px"></div>
<div class="g" style="left:155px;top:218px"></div>
<div class="g" style="left:299px;top:218px"></div>
<div class="g" style="left:444px;top:218px"></div>
<div class="g" style="left:587px;top:218px"></div>
<div class="g" style="left:736px;top:218px"></div>
<div class="g" style="left:876px;top:218px"></div>
<div class="g" style="left:1022px;top:218px"></div>
<div class="g" style="left:1169px;top:218px"></div>
<div class="g" style="left:1335px;top:218px"></div>
<div class="g" style="left:1474px;top:218px"></div>
<div class="g" style="left:1622px;top:218px"></div>
<div class="g" style="left:155px;top:233px"></div>
<div class="g" style="left:299px;top:233px"></div>
<div class="g" style="left:444px;top:233px"></div>
<div class="g" style="left:587px;top:233px"></div>
<div class="g" style="left:736px;top:233px"></div>
<div class="g" style="left:876px;top:233px"></div>
<div class="g" style="left:1022px;top:233px"></div>
<div class="g" style="left:1169px;top:233px"></div>
<div class="g" style="left:1335px;top:233px"></div>
<div class="g" style="left:1474px;top:233px"></div>
<div class="g" style="left:1622px;top:233px"></div>
<div class="g" style="left:155px;top:248px"></div>
<div class="g" style="left:299px;top:248px"></div>
<div class="g" style="left:444px;top:248px"></div>
<div class="g" style="left:587px;top:248px"></div>
<div class="g" style="left:736px;top:248px"></div>
<div class="g" style="left:876px;top:248px"></div>
<div class="g" style="left:1022px;top:248px"></div>
<div class="g" style="left:1335px;top:248px"></div>
<div class="g" style="left:1622px;top:248px"></div>
<div class="g" style="left:587px;top:263px"></div>
<div class="g" style="left:1022px;top:263px"></div>
<div class="g" style="left:155px;top:278px"></div>
<div class="g" style="left:299px;top:278px"></div>
<div class="g" style="left:444px;top:278px"></div>
<div class="g" style="left:587px;top:278px"></div>
<div class="g" style="left:736px;top:278px"></div>
<div class="g" style="left:1022px;top:278px"></div>
<div class="g" style="left:1169px;top:278px"></div>
<div class="g" style="left:1335px;top:278px"></div>
<div class="g" style="left:1474px;top:278px"></div>
<div class="g" style="left:1622px;top:278px"></div>
<div class="g" style="left:155px;top:293px"></div>
<div class="g" style="left:444px;top:293px"></div>
<div class="g" style="left:587px;top:293px"></div>
<div class="g" style="left:736px;top:293px"></div>
<div class="g" style="left:876px;top:293px"></div>
<div class="g" style="left:1022px;top:293px"></div>
<div class="g" style="left:1169px;top:293px"></div>
<div class="g" style="left:1335px;top:293px"></div>
<div class="g" style="left:1474px;top:293px"></div>
<div class="g" style="left:155px;top:308px"></div>
<div class="g" style="left:299px;top:308px"></div>
<div class="g" style="left:587px;top:308px"></div>
<div class="g" style="left:736px;top:308px"></div>
<div class="g" style="left:876px;top:308px"></div>
<div class="g" style="left:1022px;top:308px"></div>
<div class="g" style="left:1335px;top:308px"></div>
<div class="g" style="left:1474px;top:308px"></div>
<div class="g" style="left:1622px;top:308px"></div>
<div class="g" style="left:155px;top:323px"></div>
<div class="g" style="left:299px;top:323px"></div>
<div class="g" style="left:444px;top:323px"></div>
<div class="g" style="left:587px;top:323px"></div>
<div class="g" style="left:736px;top:323px"></div>
<div class="g" style="left:876px;top:323px"></div>
<div class="g" style="left:1022px;top:323px"></div>
<div class="g" style="left:1169px;top:323px"></div>
<div class="g" style="left:1335px;top:323px"></div>
<div class="g" style="left:1474px;top:323px"></div>
<div class="g" style="left:1622px;top:323px"></div>
<div class="g" style="left:299px;top:338px"></div>
<div class="g" style="left:444px;top:338px"></div>
<div class="g" style="left:587px;top:338px"></div>
<div class="g" style="left:736px;top:338px"></div>
<div class="g" style="left:876px;top:338px"></div>
<div class="g" style="left:1169px;top:338px"></div>
<div class="g" style="left:1474px;top:338px"></div>
<div class="g" style="left:155px;top:353px"></div>
<div class="g" style="left:299px;top:353px"></div>
<div class="g" style="left:444px;top:353px"></div>
<div class="g" style="left:736px;top:353px"></div>
<div class="g" style="left:876px;top:353px"></div>
<div class="g" style="left:1022px;top:353px"></div>
<div class="g" style="left:1169px;top:353px"></div>
<div class="g" style="left:1022px;top:368px"></div>
<div class="g" style="left:155px;top:383px"></div>
<div class="g" style="left:299px;top:383px"></div>
<div class="g" style="left:587px;top:383px"></div>
<div class="g" style="left:736px;top:383px"></div>
<div class="g" style="left:876px;top:383px"></div>
<div class="g" style="left:1022px;top:383px"></div>
<div class="g" style="left:1169px;top:383px"></div>
<div class="g" style="left:1335px;top:383px"></div>
<div class="g" style="left:1474px;top:383px"></div>
<div class="g" style="left:1622px;top:383px"></div>
<div class="g" style="left:155px;top:398px"></div>
<div class="g" style="left:299px;top:398px"></div>
<div class="g" style="left:444px;top:398px"></div>
<div class="g" style="left:587px;top:398px"></div>
<div class="g" style="left:736px;top:398px"></div>
<div class="g" style="left:876px;top:398px"></div>
<div class="g" style="left:1022px;top:398px"></div>
<div class="g" style="left:1169px;top:398px"></div>
<div class="g" style="left:1335px;top:398px"></div>
<div class="g" style="left:1474px;top:398px"></div>
<div class="g" style="left:1622px;top:398px"></div>
<div class="g" style="left:155px;top:413px"></div>
<div class="g" style="left:299px;top:413px"></div>
<div class="g" style="left:444px;top:413px"></div>
<div class="g" style="left:736px;top:413px"></div>
<div class="g" style="left:876px;top:413px"></div>
<div class="g" style="left:1022px;top:413px"></div>
<div class="g" style="left:1169px;top:413px"></div>
<div class="g" style="left:1335px;top:413px"></div>
<div class="g" style="left:1622px;top:413px"></div>
<div class="g" style="left:155px;top:428px"></div>
<div class="g" style="left:299px;top:428px"></div>
<div class="g" style="left:444px;top:428px"></div>
<div class="g" style="left:587px;top:428px"></div>
<div class="g" style="left:736px;top:428px"></div>
<div class="g" style="left:876px;top:428px"></div>
<div class="g" style="left:1022px;top:428px"></div>
<div class="g" style="left:1335px;top:428px"></div>
<div class="g" style="left:1474px;top:428px"></div>
<div class="g" style="left:1622px;top:428px"></div>
<div class="g" style="left:155px;top:443px"></div>
<div class="g" style="left:299px;top:443px"></div>
<div class="g" style="left:444px;top:443px"></div>
<div class="g" style="left:587px;top:443px"></div>
<div class="g" style="left:736px;top:443px"></div>
<div class="g" style="left:876px;top:443px"></div>
<div class="g" style="left:1169px;top:443px"></div>
<div class="g" style="left:1335px;top:443px"></div>
<div class="g" style="left:1622px;top:443px"></div>
<div class="g" style="left:155px;top:458px"></div>
<div class="g" style="left:299px;top:458px"></div>
<div class="g" style="left:444px;top:458px"></div>
<div class="g" style="left:587px;top:458px"></div>
<div class="g" style="left:736px;top:458px"></div>
<div class="g" style="left:876px;top:458px"></div>
<div class="g" style="left:1022px;top:458px"></div>
<div class="g" style="left:1169px;top:458px"></div>
<div class="g" style="left:1622px;top:458px"></div>
<div class="g" style="left:587px;top:473px"></div>
<div class="g" style="left:1022px;top:473px"></div>
<div class="g" style="left:155px;top:488px"></div>
<div class="g" style="left:299px;top:488px"></div>
<div class="g" style="left:444px;top:488px"></div>
<div class="g" style="left:587px;top:488px"></div>
<div class="g" style="left:876px;top:488px"></div>
<div class="g" style="left:1022px;top:488px"></div>
<div class="g" style="left:1169px;top:488px"></div>
<div class="g" style="left:1335px;top:488px"></div>
<div class="g" style="left:1474px;top:488px"></div>
<div class="g" style="left:1622px;top:488px"></div>
<div class="g" style="left:155px;top:503px"></div>
<div class="g" style="left:299px;top:503px"></div>
<div class="g" style="left:444px;top:503px"></div>
<div class="g" style="left:587px;top:503px"></div>
<div class="g" style="left:736px;top:503px"></div>
<div class="g" style="left:876px;top:503px"></div>
<div class="g" style="left:1022px;top:503px"></div>
<div class="g" style="left:1169px;top:503px"></div>
<div class="g" style="left:1474px;top:503px"></div>
<div class="g" style="left:1622px;top:503px"></div>
<div class="g" style="left:299px;top:518px"></div>
<div class="g" style="left:444px;top:518px"></div>
<div class="g" style="left:587px;top:518px"></div>
<div class="g" style="left:736px;top:518px"></div>
<div class="g" style="left:876px;top:518px"></div>
<div class="g" style="left:1022px;top:518px"></div>
<div class="g" style="left:1169px;top:518px"></div>
<div class="g" style="left:1335px;top:518px"></div>
<div class="g" style="left:1474px;top:518px"></div>
<div class="g" style="left:155px;top:533px"></div>
<div class="g" style="left:444px;top:533px"></div>
<div class="g" style="left:587px;top:533px"></div>
<div class="g" style="left:736px;top:533px"></div>
<div class="g" style="left:876px;top:533px"></div>
<div class="g" style="left:1022px;top:533px"></div>
<div class="g" style="left:1169px;top:533px"></div>
<div class="g" style="left:1335px;top:533px"></div>
<div class="g" style="left:1622px;top:533px"></div>
<div class="g" style="left:155px;top:548px"></div>
<div class="g" style="left:299px;top:548px"></div>
<div class="g" style="left:444px;top:548px"></div>
<div class="g" style="left:587px;top:548px"></div>
<div class="g" style="left:736px;top:548px"></div>
<div class="g" style="left:876px;top:548px"></div>
<div class="g" style="left:1022px;top:548px"></div>
<div class="g" style="left:1169px;top:548px"></div>
<div class="g" style="left:1474px;top:548px"></div>
<div class="g" style="left:1622px;top:548px"></div>
<div class="g" style="left:155px;top:563px"></div>
<div class="g" style="left:299px;top:563px"></div>
<div class="g" style="left:587px;top:563px"></div>
<div class="g" style="left:736px;top:563px"></div>
<div class="g" style="left:876px;top:563px"></div>
<div class="g" style="left:1022px;top:563px"></div>
<div class="g" style="left:876px;top:578px"></div>
<div class="g" style="left:1022px;top:578px"></div>
<div class="g" style="left:155px;top:593px"></div>
<div class="g" style="left:299px;top:593px"></div>
<div class="g" style="left:444px;top:593px"></div>
<div class="g" style="left:1022px;top:593px"></div>
<div class="g" style="left:155px;top:608px"></div>
<div class="g" style="left:299px;top:608px"></div>
<div class="g" style="left:444px;top:608px"></div>
<div class="g" style="left:1022px;top:608px"></div>
<div class="g" style="left:155px;top:623px"></div>
<div class="g" style="left:299px;top:623px"></div>
<div class="g" style="left:444px;top:623px"></div>
<div class="g" style="left:1022px;top:623px"></div>
<div class="g" style="left:155px;top:638px"></div>
<div class="g" style="left:299px;top:638px"></div>
<div class="g" style="left:444px;top:638px"></div>
<div class="g" style="left:1022px;top:638px"></div>
<div class="g" style="left:155px;top:653px"></div>
<div class="g" style="left:299px;top:653px"></div>
<div class="g" style="left:444px;top:653px"></div>
<div class="g" style="left:155px;top:668px"></div>
<div class="g" style="left:20px;top:248px"></div>
<div class="g" style="left:20px;top:278px"></div>
<div class="r" style="left:148px;top:68px"></div>
<div style="left:0;top:1px;width:19px;height:728px;background:#e0e4e9"></div>
<div style="left:19px;top:1px;width:1px;height:728px;background:#a9aeb6"></div>
<div style="left:0;top:21px;width:19px;height:1px;background:#a9aeb6"></div>
<div class="rh" style="top:9px;height:12px;line-height:11px">1</div>
<div style="left:0;top:36px;width:19px;height:1px;background:#a9aeb6"></div>
<div class="rh" style="top:24px;height:12px;line-height:11px">2</div>
<div style="left:0;top:51px;width:19px;height:1px;background:#a9aeb6"></div>
<div class="rh" style="top:39px;height:12px;line-height:11px">3</div>
<div style="left:0;top:67px;width:19px;height:1px;background:#a9aeb6"></div>
<div class="rh" style="top:55px;height:12px;line-height:11px">4</div>
<div style="left:0;top:82px;width:19px;height:1px;background:#a9aeb6"></div>
<div class="rh" style="top:70px;height:12px;line-height:11px">5</div>
<div style="left:0;top:97px;width:19px;height:1px;background:#a9aeb6"></div>
<div class="rh" style="top:85px;height:12px;line-height:11px">6</div>
<div class="rh" style="top:100px;height:12px;line-height:11px">7</div>
<div style="left:0;top:113px;width:19px;height:14px;background:#fdd766"></div>
<div style="left:0;top:112px;width:20px;height:1px;background:#e8a33d"></div>
<div style="left:0;top:127px;width:20px;height:1px;background:#e8a33d"></div>
<div style="left:19px;top:113px;width:1px;height:14px;background:#e8a33d"></div>
<div class="rh" style="top:115px;height:12px;line-height:11px">8</div>
<div style="left:0;top:142px;width:19px;height:1px;background:#a9aeb6"></div>
<div class="rh" style="top:130px;height:12px;line-height:11px">9</div>
<div style="left:0;top:157px;width:19px;height:1px;background:#a9aeb6"></div>
<div class="rh" style="top:145px;height:12px;line-height:11px">10</div>
<div style="left:0;top:172px;width:19px;height:1px;background:#a9aeb6"></div>
<div class="rh" style="top:160px;height:12px;line-height:11px">11</div>
<div style="left:0;top:187px;width:19px;height:1px;background:#a9aeb6"></div>
<div class="rh" style="top:175px;height:12px;line-height:11px">12</div>
<div style="left:0;top:202px;width:19px;height:1px;background:#a9aeb6"></div>
<div class="rh" style="top:190px;height:12px;line-height:11px">13</div>
<div style="left:0;top:217px;width:19px;height:1px;background:#a9aeb6"></div>
<div class="rh" style="top:205px;height:12px;line-height:11px">14</div>
<div style="left:0;top:232px;width:19px;height:1px;background:#a9aeb6"></div>
<div class="rh" style="top:220px;height:12px;line-height:11px">15</div>
<div style="left:0;top:247px;width:19px;height:1px;background:#a9aeb6"></div>
<div class="rh" style="top:235px;height:12px;line-height:11px">16</div>
<div style="left:0;top:262px;width:19px;height:1px;background:#a9aeb6"></div>
<div class="rh" style="top:250px;height:12px;line-height:11px">17</div>
<div style="left:0;top:277px;width:19px;height:1px;background:#a9aeb6"></div>
<div class="rh" style="top:265px;height:12px;line-height:11px">18</div>
<div style="left:0;top:292px;width:19px;height:1px;background:#a9aeb6"></div>
<div class="rh" style="top:280px;height:12px;line-height:11px">19</div>
<div style="left:0;top:307px;width:19px;height:1px;background:#a9aeb6"></div>
<div class="rh" style="top:295px;height:12px;line-height:11px">20</div>
<div style="left:0;top:322px;width:19px;height:1px;background:#a9aeb6"></div>
<div class="rh" style="top:310px;height:12px;line-height:11px">21</div>
<div style="left:0;top:337px;width:19px;height:1px;background:#a9aeb6"></div>
<div class="rh" style="top:325px;height:12px;line-height:11px">22</div>
<div style="left:0;top:352px;width:19px;height:1px;background:#a9aeb6"></div>
<div class="rh" style="top:340px;height:12px;line-height:11px">23</div>
<div style="left:0;top:367px;width:19px;height:1px;background:#a9aeb6"></div>
<div class="rh" style="top:355px;height:12px;line-height:11px">24</div>
<div style="left:0;top:382px;width:19px;height:1px;background:#a9aeb6"></div>
<div class="rh" style="top:370px;height:12px;line-height:11px">25</div>
<div style="left:0;top:397px;width:19px;height:1px;background:#a9aeb6"></div>
<div class="rh" style="top:385px;height:12px;line-height:11px">26</div>
<div style="left:0;top:412px;width:19px;height:1px;background:#a9aeb6"></div>
<div class="rh" style="top:400px;height:12px;line-height:11px">27</div>
<div style="left:0;top:427px;width:19px;height:1px;background:#a9aeb6"></div>
<div class="rh" style="top:415px;height:12px;line-height:11px">28</div>
<div style="left:0;top:442px;width:19px;height:1px;background:#a9aeb6"></div>
<div class="rh" style="top:430px;height:12px;line-height:11px">29</div>
<div style="left:0;top:457px;width:19px;height:1px;background:#a9aeb6"></div>
<div class="rh" style="top:445px;height:12px;line-height:11px">30</div>
<div style="left:0;top:472px;width:19px;height:1px;background:#a9aeb6"></div>
<div class="rh" style="top:460px;height:12px;line-height:11px">31</div>
<div style="left:0;top:487px;width:19px;height:1px;background:#a9aeb6"></div>
<div class="rh" style="top:475px;height:12px;line-height:11px">32</div>
<div style="left:0;top:502px;width:19px;height:1px;background:#a9aeb6"></div>
<div class="rh" style="top:490px;height:12px;line-height:11px">33</div>
<div style="left:0;top:517px;width:19px;height:1px;background:#a9aeb6"></div>
<div class="rh" style="top:505px;height:12px;line-height:11px">34</div>
<div style="left:0;top:532px;width:19px;height:1px;background:#a9aeb6"></div>
<div class="rh" style="top:520px;height:12px;line-height:11px">35</div>
<div style="left:0;top:547px;width:19px;height:1px;background:#a9aeb6"></div>
<div class="rh" style="top:535px;height:12px;line-height:11px">36</div>
<div style="left:0;top:562px;width:19px;height:1px;background:#a9aeb6"></div>
<div class="rh" style="top:550px;height:12px;line-height:11px">37</div>
<div style="left:0;top:577px;width:19px;height:1px;background:#a9aeb6"></div>
<div class="rh" style="top:565px;height:12px;line-height:11px">38</div>
<div style="left:0;top:592px;width:19px;height:1px;background:#a9aeb6"></div>
<div class="rh" style="top:580px;height:12px;line-height:11px">39</div>
<div style="left:0;top:607px;width:19px;height:1px;background:#a9aeb6"></div>
<div class="rh" style="top:595px;height:12px;line-height:11px">40</div>
<div style="left:0;top:622px;width:19px;height:1px;background:#a9aeb6"></div>
<div class="rh" style="top:610px;height:12px;line-height:11px">41</div>
<div style="left:0;top:637px;width:19px;height:1px;background:#a9aeb6"></div>
<div class="rh" style="top:625px;height:12px;line-height:11px">42</div>
<div style="left:0;top:652px;width:19px;height:1px;background:#a9aeb6"></div>
<div class="rh" style="top:640px;height:12px;line-height:11px">43</div>
<div style="left:0;top:667px;width:19px;height:1px;background:#a9aeb6"></div>
<div class="rh" style="top:655px;height:12px;line-height:11px">44</div>
<div style="left:0;top:682px;width:19px;height:1px;background:#a9aeb6"></div>
<div class="rh" style="top:670px;height:12px;line-height:11px">45</div>
<div style="left:0;top:697px;width:19px;height:1px;background:#a9aeb6"></div>
<div class="rh" style="top:685px;height:12px;line-height:11px">46</div>
<div style="left:0;top:712px;width:19px;height:1px;background:#a9aeb6"></div>
<div class="rh" style="top:700px;height:12px;line-height:11px">47</div>
<div style="left:0;top:724px;width:19px;height:1px;background:#a9aeb6"></div>
<div class="rh" style="top:712px;height:12px;line-height:11px">48</div>
<div class="rh" style="top:725px;height:12px;line-height:11px">49</div>
<div style="left:0;top:0;width:1699px;height:1px;background:#a9aeb6"></div><div style="left:626px;top:0;width:110px;height:1px;background:#e8a33d"></div>
<div style="left:625px;top:111px;width:112px;height:1px;background:#000"></div>
<div style="left:625px;top:112px;width:112px;height:1px;background:#fff"></div>
<div style="left:627px;top:113px;width:108px;height:1px;background:#000"></div>
<div style="left:625px;top:126px;width:108px;height:1px;background:#000"></div>
<div style="left:625px;top:127px;width:108px;height:1px;background:#fff"></div>
<div style="left:625px;top:128px;width:108px;height:1px;background:#000"></div>
<div style="left:625px;top:111px;width:1px;height:18px;background:#000"></div>
<div style="left:626px;top:112px;width:1px;height:16px;background:#fff"></div>
<div style="left:627px;top:113px;width:1px;height:14px;background:#000"></div>
<div style="left:734px;top:113px;width:1px;height:12px;background:#000"></div>
<div style="left:735px;top:112px;width:1px;height:13px;background:#fff"></div>
<div style="left:736px;top:111px;width:1px;height:14px;background:#000"></div>
<div style="left:733px;top:125px;width:5px;height:5px;background:#fff"></div>
<div style="left:734px;top:126px;width:4px;height:4px;background:#000"></div>
<div style="left:735px;top:127px;width:1px;height:1px;background:#fff"></div></div></body></html>
